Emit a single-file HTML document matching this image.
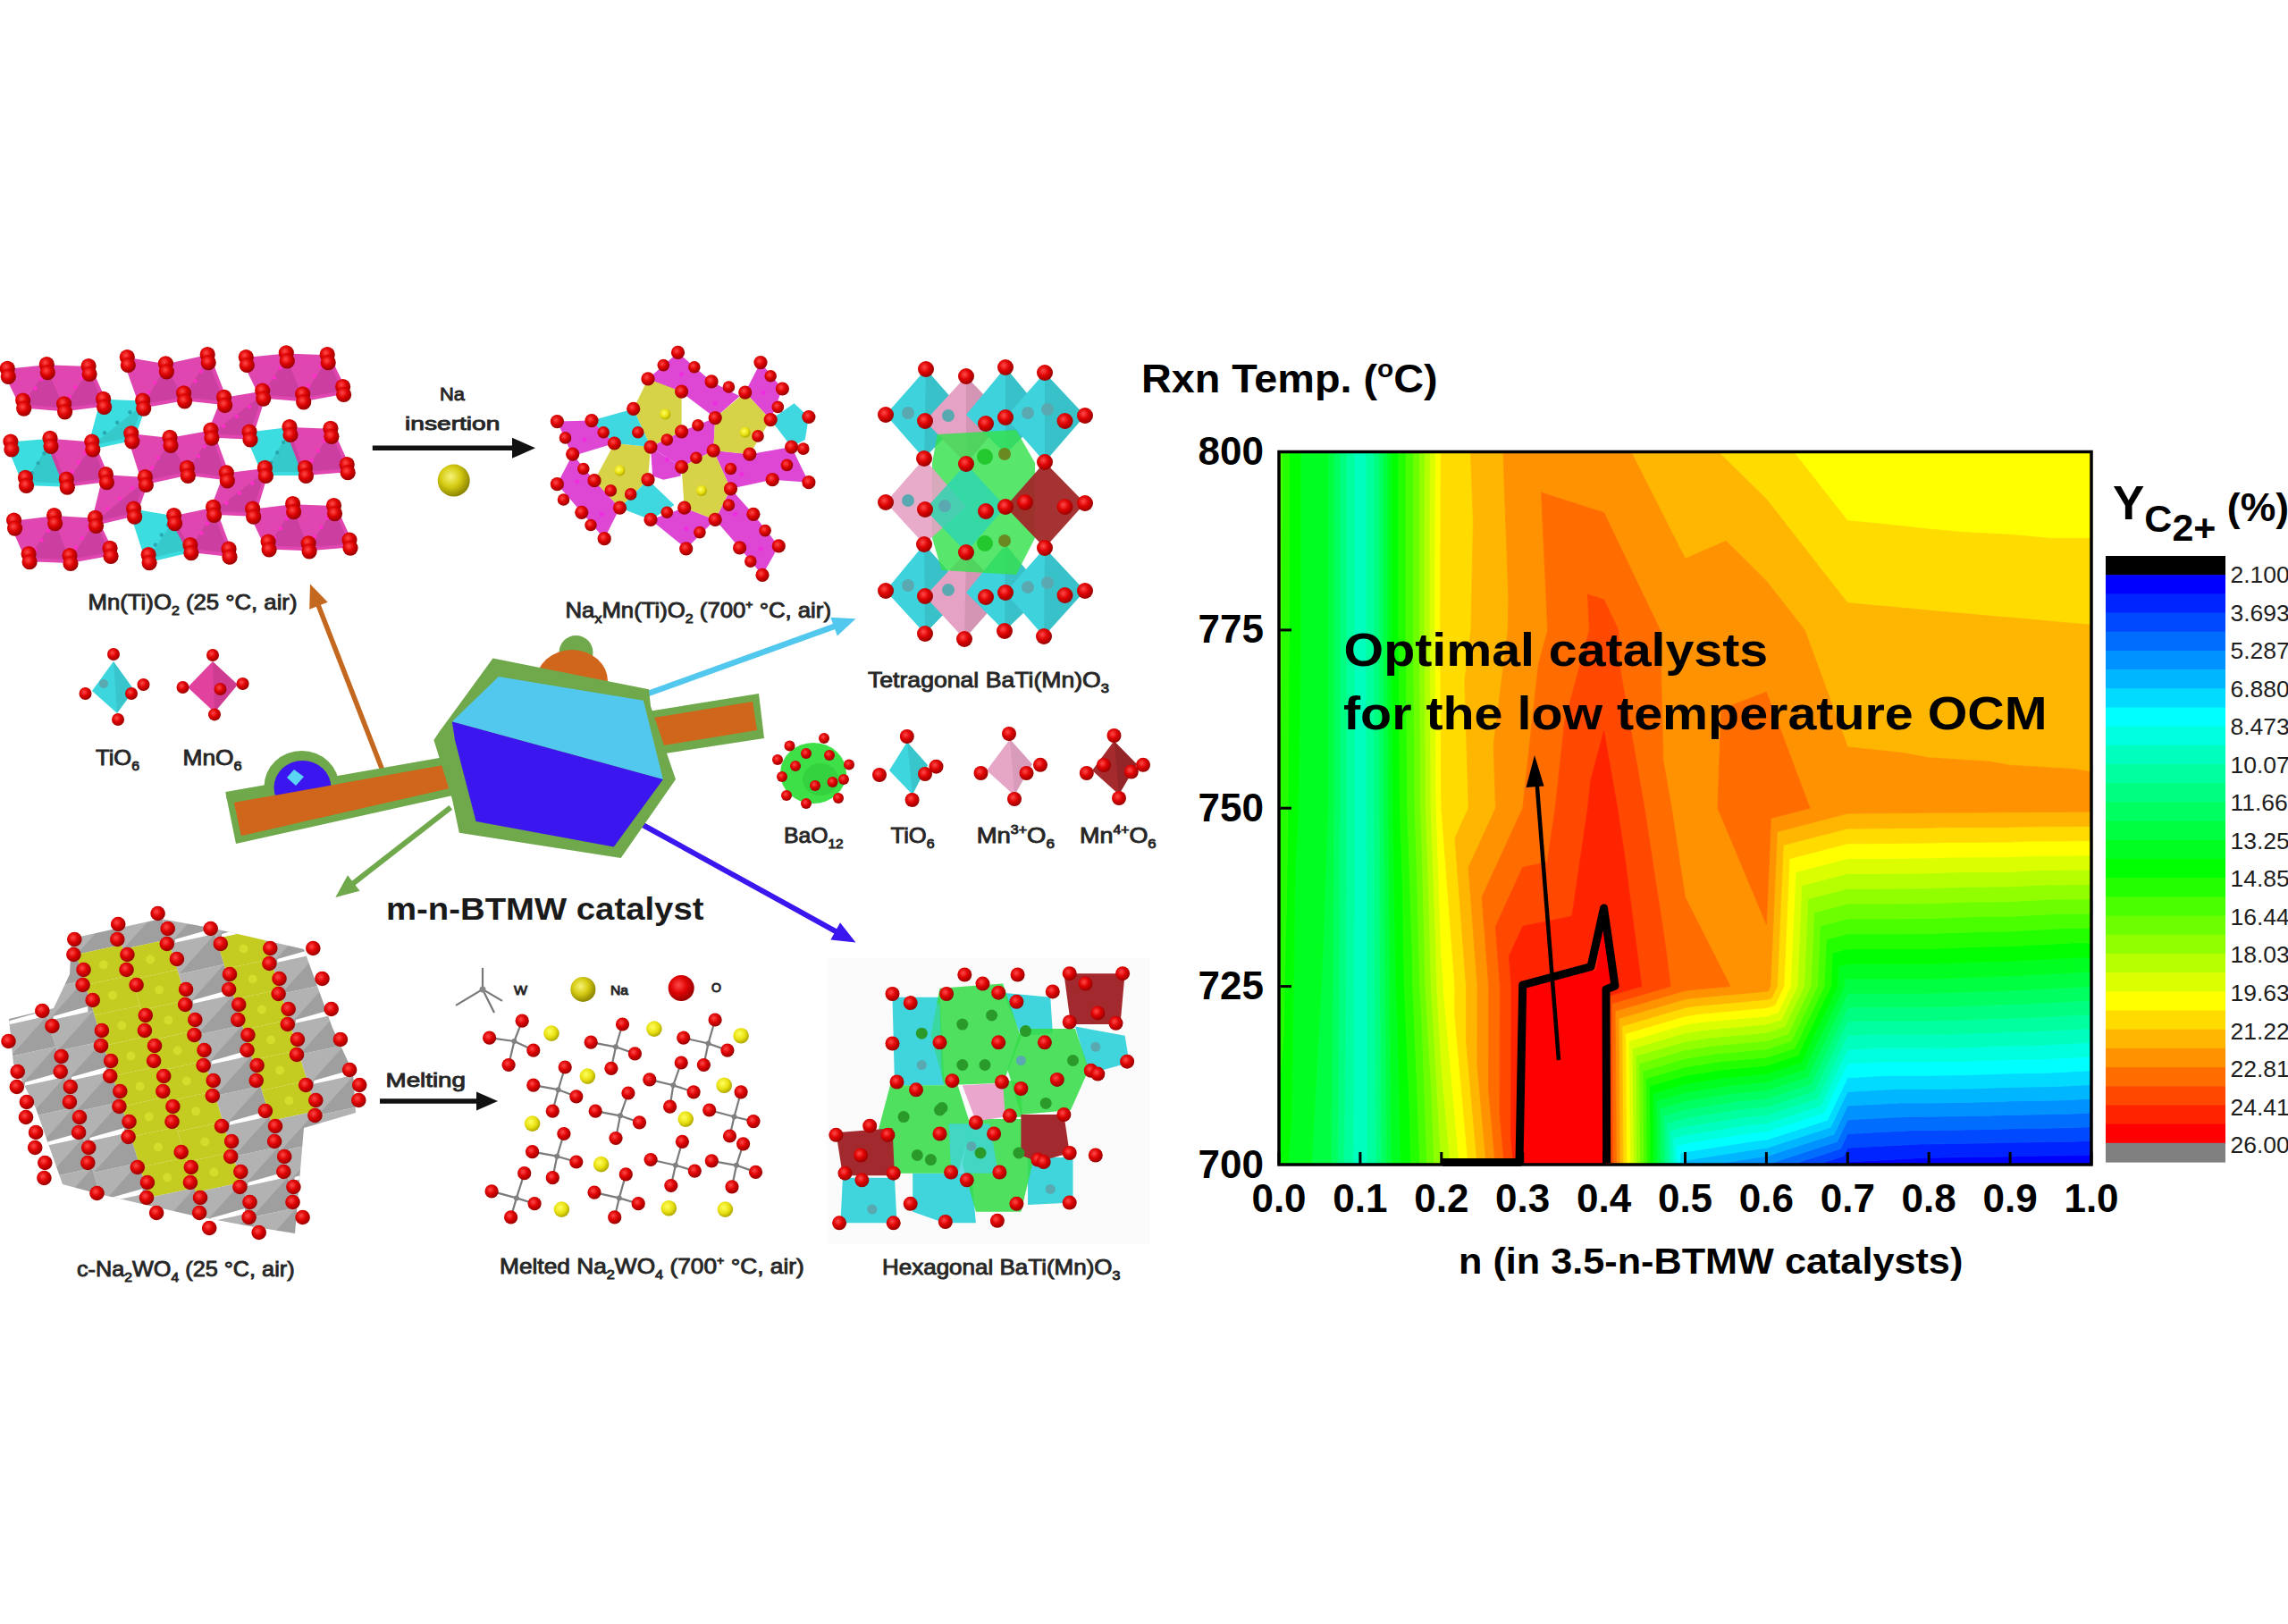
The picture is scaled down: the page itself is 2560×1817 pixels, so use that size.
<!DOCTYPE html>
<html><head><meta charset="utf-8"><title>m-n-BTMW catalyst</title>
<style>html,body{margin:0;padding:0;background:#fff;overflow:hidden}svg{display:block}</style>
</head><body>
<svg width="2560" height="1817" viewBox="0 0 2560 1817">
<rect width="2560" height="1817" fill="#fff"/>
<defs>
<radialGradient id="gO" cx="0.4" cy="0.38" r="0.62"><stop offset="0" stop-color="#ff4a4a"/><stop offset="0.5" stop-color="#e00404"/><stop offset="1" stop-color="#9a0000"/></radialGradient>
<radialGradient id="gNa" cx="0.4" cy="0.38" r="0.62"><stop offset="0" stop-color="#f6f27a"/><stop offset="0.5" stop-color="#d6cc14"/><stop offset="1" stop-color="#8e8600"/></radialGradient>
<radialGradient id="gY" cx="0.4" cy="0.38" r="0.62"><stop offset="0" stop-color="#ffff60"/><stop offset="0.6" stop-color="#e8e010"/><stop offset="1" stop-color="#b0a800"/></radialGradient>
</defs>
<polygon points="8.3,416.8 52.3,412.2 71.6,456.3 25.7,452.6" fill="#e046b0" stroke="#e046b0" stroke-width="8" stroke-linejoin="round"/>
<polygon points="52.3,412.2 99.1,414.0 115.6,450.8 71.6,456.3" fill="#e046b0" stroke="#e046b0" stroke-width="8" stroke-linejoin="round"/>
<polygon points="142.3,404.0 185.4,411.3 205.6,444.3 159.7,452.6" fill="#e046b0" stroke="#e046b0" stroke-width="8" stroke-linejoin="round"/>
<polygon points="185.4,411.3 232.2,401.2 250.6,448.9 205.6,444.3" fill="#e046b0" stroke="#e046b0" stroke-width="8" stroke-linejoin="round"/>
<polygon points="275.3,404.0 320.3,399.4 338.7,445.3 293.7,441.6" fill="#e046b0" stroke="#e046b0" stroke-width="8" stroke-linejoin="round"/>
<polygon points="320.3,399.4 366.2,401.2 383.6,437.0 338.7,445.3" fill="#e046b0" stroke="#e046b0" stroke-width="8" stroke-linejoin="round"/>
<polygon points="11.9,498.5 56.0,494.8 74.3,540.7 28.5,538.9" fill="#3cdde0" stroke="#3cdde0" stroke-width="8" stroke-linejoin="round"/>
<polygon points="56.0,494.8 102.8,498.5 118.4,535.2 74.3,540.7" fill="#e046b0" stroke="#e046b0" stroke-width="8" stroke-linejoin="round"/>
<polygon points="146.8,489.3 190.0,493.9 209.3,527.9 162.4,538.0" fill="#e046b0" stroke="#e046b0" stroke-width="8" stroke-linejoin="round"/>
<polygon points="190.0,493.9 235.9,485.6 253.3,533.4 209.3,527.9" fill="#e046b0" stroke="#e046b0" stroke-width="8" stroke-linejoin="round"/>
<polygon points="279.0,487.5 324.0,482.0 341.4,527.9 296.4,527.9" fill="#3cdde0" stroke="#3cdde0" stroke-width="8" stroke-linejoin="round"/>
<polygon points="324.0,482.0 369.9,483.8 388.2,524.2 341.4,527.9" fill="#e046b0" stroke="#e046b0" stroke-width="8" stroke-linejoin="round"/>
<polygon points="15.6,586.6 60.6,581.1 78.0,626.0 32.1,624.2" fill="#e046b0" stroke="#e046b0" stroke-width="8" stroke-linejoin="round"/>
<polygon points="60.6,581.1 106.5,583.8 123.0,617.8 78.0,626.0" fill="#e046b0" stroke="#e046b0" stroke-width="8" stroke-linejoin="round"/>
<polygon points="149.6,573.7 194.6,581.1 212.9,614.1 166.1,625.1" fill="#3cdde0" stroke="#3cdde0" stroke-width="8" stroke-linejoin="round"/>
<polygon points="194.6,581.1 238.6,571.9 256.0,618.7 212.9,614.1" fill="#e046b0" stroke="#e046b0" stroke-width="8" stroke-linejoin="round"/>
<polygon points="282.7,573.7 327.6,568.2 345.1,612.3 300.1,610.5" fill="#e046b0" stroke="#e046b0" stroke-width="8" stroke-linejoin="round"/>
<polygon points="327.6,568.2 373.5,570.1 391.0,608.6 345.1,612.3" fill="#e046b0" stroke="#e046b0" stroke-width="8" stroke-linejoin="round"/>
<polygon points="115.6,450.8 159.7,452.6 146.8,489.3 102.8,498.5" fill="#3cdde0" stroke="#3cdde0" stroke-width="8" stroke-linejoin="round"/>
<polygon points="250.6,448.9 293.7,441.6 279.0,487.5 235.9,485.6" fill="#e046b0" stroke="#e046b0" stroke-width="8" stroke-linejoin="round"/>
<polygon points="118.4,535.2 162.4,538.0 149.6,573.7 106.5,583.8" fill="#e046b0" stroke="#e046b0" stroke-width="8" stroke-linejoin="round"/>
<polygon points="253.3,533.4 296.4,527.9 282.7,573.7 238.6,571.9" fill="#e046b0" stroke="#e046b0" stroke-width="8" stroke-linejoin="round"/>
<polygon points="52.3,412.2 71.6,456.3 25.7,452.6" fill="#000" fill-opacity="0.09"/>
<circle cx="46.1" cy="424.4" r="2.2" fill="#ff2ec8"/>
<circle cx="39.5" cy="434.5" r="2.2" fill="#ff2ec8"/>
<circle cx="32.8" cy="444.6" r="2.2" fill="#ff2ec8"/>
<polygon points="99.1,414.0 115.6,450.8 71.6,456.3" fill="#000" fill-opacity="0.09"/>
<circle cx="91.5" cy="422.8" r="2.2" fill="#ff2ec8"/>
<circle cx="84.6" cy="433.3" r="2.2" fill="#ff2ec8"/>
<circle cx="77.8" cy="443.9" r="2.2" fill="#ff2ec8"/>
<polygon points="185.4,411.3 205.6,444.3 159.7,452.6" fill="#000" fill-opacity="0.09"/>
<circle cx="179.7" cy="417.7" r="2.2" fill="#ff2ec8"/>
<circle cx="173.2" cy="428.1" r="2.2" fill="#ff2ec8"/>
<circle cx="166.8" cy="438.4" r="2.2" fill="#ff2ec8"/>
<polygon points="232.2,401.2 250.6,448.9 205.6,444.3" fill="#000" fill-opacity="0.09"/>
<circle cx="225.1" cy="415.6" r="2.2" fill="#ff2ec8"/>
<circle cx="218.5" cy="426.4" r="2.2" fill="#ff2ec8"/>
<circle cx="211.8" cy="437.2" r="2.2" fill="#ff2ec8"/>
<polygon points="320.3,399.4 338.7,445.3 293.7,441.6" fill="#000" fill-opacity="0.09"/>
<circle cx="313.6" cy="412.0" r="2.2" fill="#ff2ec8"/>
<circle cx="307.0" cy="422.6" r="2.2" fill="#ff2ec8"/>
<circle cx="300.4" cy="433.1" r="2.2" fill="#ff2ec8"/>
<polygon points="366.2,401.2 383.6,437.0 338.7,445.3" fill="#000" fill-opacity="0.09"/>
<circle cx="359.1" cy="409.7" r="2.2" fill="#ff2ec8"/>
<circle cx="352.2" cy="420.7" r="2.2" fill="#ff2ec8"/>
<circle cx="345.3" cy="431.8" r="2.2" fill="#ff2ec8"/>
<polygon points="56.0,494.8 74.3,540.7 28.5,538.9" fill="#000" fill-opacity="0.09"/>
<circle cx="49.5" cy="507.2" r="2.2" fill="#2aa8b0"/>
<circle cx="42.7" cy="518.2" r="2.2" fill="#2aa8b0"/>
<circle cx="35.8" cy="529.2" r="2.2" fill="#2aa8b0"/>
<polygon points="102.8,498.5 118.4,535.2 74.3,540.7" fill="#000" fill-opacity="0.09"/>
<circle cx="95.0" cy="506.7" r="2.2" fill="#ff2ec8"/>
<circle cx="87.9" cy="517.3" r="2.2" fill="#ff2ec8"/>
<circle cx="80.8" cy="527.8" r="2.2" fill="#ff2ec8"/>
<polygon points="190.0,493.9 209.3,527.9 162.4,538.0" fill="#000" fill-opacity="0.09"/>
<circle cx="184.0" cy="501.2" r="2.2" fill="#ff2ec8"/>
<circle cx="177.1" cy="512.3" r="2.2" fill="#ff2ec8"/>
<circle cx="170.2" cy="523.3" r="2.2" fill="#ff2ec8"/>
<polygon points="235.9,485.6 253.3,533.4 209.3,527.9" fill="#000" fill-opacity="0.09"/>
<circle cx="228.8" cy="499.6" r="2.2" fill="#ff2ec8"/>
<circle cx="222.1" cy="510.2" r="2.2" fill="#ff2ec8"/>
<circle cx="215.5" cy="520.8" r="2.2" fill="#ff2ec8"/>
<polygon points="324.0,482.0 341.4,527.9 296.4,527.9" fill="#000" fill-opacity="0.09"/>
<circle cx="317.1" cy="494.9" r="2.2" fill="#2aa8b0"/>
<circle cx="310.2" cy="506.3" r="2.2" fill="#2aa8b0"/>
<circle cx="303.3" cy="517.8" r="2.2" fill="#2aa8b0"/>
<polygon points="369.9,483.8 388.2,524.2 341.4,527.9" fill="#000" fill-opacity="0.09"/>
<circle cx="363.0" cy="493.4" r="2.2" fill="#ff2ec8"/>
<circle cx="355.9" cy="504.5" r="2.2" fill="#ff2ec8"/>
<circle cx="348.8" cy="515.5" r="2.2" fill="#ff2ec8"/>
<polygon points="60.6,581.1 78.0,626.0 32.1,624.2" fill="#000" fill-opacity="0.09"/>
<circle cx="53.7" cy="593.7" r="2.2" fill="#ff2ec8"/>
<circle cx="46.6" cy="604.5" r="2.2" fill="#ff2ec8"/>
<circle cx="39.5" cy="615.2" r="2.2" fill="#ff2ec8"/>
<polygon points="106.5,583.8 123.0,617.8 78.0,626.0" fill="#000" fill-opacity="0.09"/>
<circle cx="99.2" cy="591.6" r="2.2" fill="#ff2ec8"/>
<circle cx="92.0" cy="602.2" r="2.2" fill="#ff2ec8"/>
<circle cx="84.9" cy="612.7" r="2.2" fill="#ff2ec8"/>
<polygon points="194.6,581.1 212.9,614.1 166.1,625.1" fill="#000" fill-opacity="0.09"/>
<circle cx="187.9" cy="587.5" r="2.2" fill="#2aa8b0"/>
<circle cx="180.8" cy="598.5" r="2.2" fill="#2aa8b0"/>
<circle cx="173.7" cy="609.5" r="2.2" fill="#2aa8b0"/>
<polygon points="238.6,571.9 256.0,618.7 212.9,614.1" fill="#000" fill-opacity="0.09"/>
<circle cx="231.9" cy="585.9" r="2.2" fill="#ff2ec8"/>
<circle cx="225.5" cy="596.5" r="2.2" fill="#ff2ec8"/>
<circle cx="219.1" cy="607.0" r="2.2" fill="#ff2ec8"/>
<polygon points="327.6,568.2 345.1,612.3 300.1,610.5" fill="#000" fill-opacity="0.09"/>
<circle cx="320.8" cy="580.6" r="2.2" fill="#ff2ec8"/>
<circle cx="313.9" cy="591.2" r="2.2" fill="#ff2ec8"/>
<circle cx="307.0" cy="601.8" r="2.2" fill="#ff2ec8"/>
<polygon points="373.5,570.1 391.0,608.6 345.1,612.3" fill="#000" fill-opacity="0.09"/>
<circle cx="366.4" cy="579.3" r="2.2" fill="#ff2ec8"/>
<circle cx="359.3" cy="589.8" r="2.2" fill="#ff2ec8"/>
<circle cx="352.2" cy="600.4" r="2.2" fill="#ff2ec8"/>
<polygon points="159.7,452.6 146.8,489.3 102.8,498.5" fill="#000" fill-opacity="0.09"/>
<circle cx="145.4" cy="461.3" r="2.2" fill="#2aa8b0"/>
<circle cx="131.2" cy="472.8" r="2.2" fill="#2aa8b0"/>
<circle cx="117.0" cy="484.3" r="2.2" fill="#2aa8b0"/>
<polygon points="293.7,441.6 279.0,487.5 235.9,485.6" fill="#000" fill-opacity="0.09"/>
<circle cx="279.2" cy="454.9" r="2.2" fill="#ff2ec8"/>
<circle cx="264.8" cy="465.9" r="2.2" fill="#ff2ec8"/>
<circle cx="250.3" cy="476.9" r="2.2" fill="#ff2ec8"/>
<polygon points="162.4,538.0 149.6,573.7 106.5,583.8" fill="#000" fill-opacity="0.09"/>
<circle cx="148.2" cy="546.2" r="2.2" fill="#ff2ec8"/>
<circle cx="134.2" cy="557.7" r="2.2" fill="#ff2ec8"/>
<circle cx="120.2" cy="569.1" r="2.2" fill="#ff2ec8"/>
<polygon points="296.4,527.9 282.7,573.7 238.6,571.9" fill="#000" fill-opacity="0.09"/>
<circle cx="282.2" cy="540.7" r="2.2" fill="#ff2ec8"/>
<circle cx="267.8" cy="551.7" r="2.2" fill="#ff2ec8"/>
<circle cx="253.3" cy="562.7" r="2.2" fill="#ff2ec8"/>
<circle cx="8.3" cy="412.3" r="8.6" fill="url(#gO)"/>
<circle cx="9.3" cy="421.3" r="8.6" fill="url(#gO)"/>
<circle cx="52.3" cy="407.7" r="8.6" fill="url(#gO)"/>
<circle cx="53.3" cy="416.7" r="8.6" fill="url(#gO)"/>
<circle cx="99.1" cy="409.5" r="8.6" fill="url(#gO)"/>
<circle cx="100.1" cy="418.5" r="8.6" fill="url(#gO)"/>
<circle cx="142.3" cy="399.5" r="8.6" fill="url(#gO)"/>
<circle cx="143.3" cy="408.5" r="8.6" fill="url(#gO)"/>
<circle cx="185.4" cy="406.8" r="8.6" fill="url(#gO)"/>
<circle cx="186.4" cy="415.8" r="8.6" fill="url(#gO)"/>
<circle cx="232.2" cy="396.7" r="8.6" fill="url(#gO)"/>
<circle cx="233.2" cy="405.7" r="8.6" fill="url(#gO)"/>
<circle cx="275.3" cy="399.5" r="8.6" fill="url(#gO)"/>
<circle cx="276.3" cy="408.5" r="8.6" fill="url(#gO)"/>
<circle cx="320.3" cy="394.9" r="8.6" fill="url(#gO)"/>
<circle cx="321.3" cy="403.9" r="8.6" fill="url(#gO)"/>
<circle cx="366.2" cy="396.7" r="8.6" fill="url(#gO)"/>
<circle cx="367.2" cy="405.7" r="8.6" fill="url(#gO)"/>
<circle cx="25.7" cy="448.1" r="8.6" fill="url(#gO)"/>
<circle cx="26.7" cy="457.1" r="8.6" fill="url(#gO)"/>
<circle cx="71.6" cy="451.8" r="8.6" fill="url(#gO)"/>
<circle cx="72.6" cy="460.8" r="8.6" fill="url(#gO)"/>
<circle cx="115.6" cy="446.3" r="8.6" fill="url(#gO)"/>
<circle cx="116.6" cy="455.3" r="8.6" fill="url(#gO)"/>
<circle cx="159.7" cy="448.1" r="8.6" fill="url(#gO)"/>
<circle cx="160.7" cy="457.1" r="8.6" fill="url(#gO)"/>
<circle cx="205.6" cy="439.8" r="8.6" fill="url(#gO)"/>
<circle cx="206.6" cy="448.8" r="8.6" fill="url(#gO)"/>
<circle cx="250.6" cy="444.4" r="8.6" fill="url(#gO)"/>
<circle cx="251.6" cy="453.4" r="8.6" fill="url(#gO)"/>
<circle cx="293.7" cy="437.1" r="8.6" fill="url(#gO)"/>
<circle cx="294.7" cy="446.1" r="8.6" fill="url(#gO)"/>
<circle cx="338.7" cy="440.8" r="8.6" fill="url(#gO)"/>
<circle cx="339.7" cy="449.8" r="8.6" fill="url(#gO)"/>
<circle cx="383.6" cy="432.5" r="8.6" fill="url(#gO)"/>
<circle cx="384.6" cy="441.5" r="8.6" fill="url(#gO)"/>
<circle cx="11.9" cy="494.0" r="8.6" fill="url(#gO)"/>
<circle cx="12.9" cy="503.0" r="8.6" fill="url(#gO)"/>
<circle cx="56.0" cy="490.3" r="8.6" fill="url(#gO)"/>
<circle cx="57.0" cy="499.3" r="8.6" fill="url(#gO)"/>
<circle cx="102.8" cy="494.0" r="8.6" fill="url(#gO)"/>
<circle cx="103.8" cy="503.0" r="8.6" fill="url(#gO)"/>
<circle cx="146.8" cy="484.8" r="8.6" fill="url(#gO)"/>
<circle cx="147.8" cy="493.8" r="8.6" fill="url(#gO)"/>
<circle cx="190.0" cy="489.4" r="8.6" fill="url(#gO)"/>
<circle cx="191.0" cy="498.4" r="8.6" fill="url(#gO)"/>
<circle cx="235.9" cy="481.1" r="8.6" fill="url(#gO)"/>
<circle cx="236.9" cy="490.1" r="8.6" fill="url(#gO)"/>
<circle cx="279.0" cy="483.0" r="8.6" fill="url(#gO)"/>
<circle cx="280.0" cy="492.0" r="8.6" fill="url(#gO)"/>
<circle cx="324.0" cy="477.5" r="8.6" fill="url(#gO)"/>
<circle cx="325.0" cy="486.5" r="8.6" fill="url(#gO)"/>
<circle cx="369.9" cy="479.3" r="8.6" fill="url(#gO)"/>
<circle cx="370.9" cy="488.3" r="8.6" fill="url(#gO)"/>
<circle cx="28.5" cy="534.4" r="8.6" fill="url(#gO)"/>
<circle cx="29.5" cy="543.4" r="8.6" fill="url(#gO)"/>
<circle cx="74.3" cy="536.2" r="8.6" fill="url(#gO)"/>
<circle cx="75.3" cy="545.2" r="8.6" fill="url(#gO)"/>
<circle cx="118.4" cy="530.7" r="8.6" fill="url(#gO)"/>
<circle cx="119.4" cy="539.7" r="8.6" fill="url(#gO)"/>
<circle cx="162.4" cy="533.5" r="8.6" fill="url(#gO)"/>
<circle cx="163.4" cy="542.5" r="8.6" fill="url(#gO)"/>
<circle cx="209.3" cy="523.4" r="8.6" fill="url(#gO)"/>
<circle cx="210.3" cy="532.4" r="8.6" fill="url(#gO)"/>
<circle cx="253.3" cy="528.9" r="8.6" fill="url(#gO)"/>
<circle cx="254.3" cy="537.9" r="8.6" fill="url(#gO)"/>
<circle cx="296.4" cy="523.4" r="8.6" fill="url(#gO)"/>
<circle cx="297.4" cy="532.4" r="8.6" fill="url(#gO)"/>
<circle cx="341.4" cy="523.4" r="8.6" fill="url(#gO)"/>
<circle cx="342.4" cy="532.4" r="8.6" fill="url(#gO)"/>
<circle cx="388.2" cy="519.7" r="8.6" fill="url(#gO)"/>
<circle cx="389.2" cy="528.7" r="8.6" fill="url(#gO)"/>
<circle cx="15.6" cy="582.1" r="8.6" fill="url(#gO)"/>
<circle cx="16.6" cy="591.1" r="8.6" fill="url(#gO)"/>
<circle cx="60.6" cy="576.6" r="8.6" fill="url(#gO)"/>
<circle cx="61.6" cy="585.6" r="8.6" fill="url(#gO)"/>
<circle cx="106.5" cy="579.3" r="8.6" fill="url(#gO)"/>
<circle cx="107.5" cy="588.3" r="8.6" fill="url(#gO)"/>
<circle cx="149.6" cy="569.2" r="8.6" fill="url(#gO)"/>
<circle cx="150.6" cy="578.2" r="8.6" fill="url(#gO)"/>
<circle cx="194.6" cy="576.6" r="8.6" fill="url(#gO)"/>
<circle cx="195.6" cy="585.6" r="8.6" fill="url(#gO)"/>
<circle cx="238.6" cy="567.4" r="8.6" fill="url(#gO)"/>
<circle cx="239.6" cy="576.4" r="8.6" fill="url(#gO)"/>
<circle cx="282.7" cy="569.2" r="8.6" fill="url(#gO)"/>
<circle cx="283.7" cy="578.2" r="8.6" fill="url(#gO)"/>
<circle cx="327.6" cy="563.7" r="8.6" fill="url(#gO)"/>
<circle cx="328.6" cy="572.7" r="8.6" fill="url(#gO)"/>
<circle cx="373.5" cy="565.6" r="8.6" fill="url(#gO)"/>
<circle cx="374.5" cy="574.6" r="8.6" fill="url(#gO)"/>
<circle cx="32.1" cy="619.7" r="8.6" fill="url(#gO)"/>
<circle cx="33.1" cy="628.7" r="8.6" fill="url(#gO)"/>
<circle cx="78.0" cy="621.5" r="8.6" fill="url(#gO)"/>
<circle cx="79.0" cy="630.5" r="8.6" fill="url(#gO)"/>
<circle cx="123.0" cy="613.3" r="8.6" fill="url(#gO)"/>
<circle cx="124.0" cy="622.3" r="8.6" fill="url(#gO)"/>
<circle cx="166.1" cy="620.6" r="8.6" fill="url(#gO)"/>
<circle cx="167.1" cy="629.6" r="8.6" fill="url(#gO)"/>
<circle cx="212.9" cy="609.6" r="8.6" fill="url(#gO)"/>
<circle cx="213.9" cy="618.6" r="8.6" fill="url(#gO)"/>
<circle cx="256.0" cy="614.2" r="8.6" fill="url(#gO)"/>
<circle cx="257.0" cy="623.2" r="8.6" fill="url(#gO)"/>
<circle cx="300.1" cy="606.0" r="8.6" fill="url(#gO)"/>
<circle cx="301.1" cy="615.0" r="8.6" fill="url(#gO)"/>
<circle cx="345.1" cy="607.8" r="8.6" fill="url(#gO)"/>
<circle cx="346.1" cy="616.8" r="8.6" fill="url(#gO)"/>
<circle cx="391.0" cy="604.1" r="8.6" fill="url(#gO)"/>
<circle cx="392.0" cy="613.1" r="8.6" fill="url(#gO)"/>
<polygon points="758.5,394.4 796.1,426.9 827.6,443.2 800.2,467.6 762.6,439.1 725.0,423.9" fill="#de46d4" />
<polygon points="851.0,405.6 875.4,435.0 862.2,469.6 833.7,439.1" fill="#de46d4" />
<polygon points="623.4,471.6 662.0,470.6 687.4,496.0 640.7,510.2" fill="#de46d4" />
<polygon points="640.7,508.2 665.0,537.7 693.5,568.2 676.2,602.7 650.8,573.3 623.4,541.7" fill="#de46d4" />
<polygon points="728.0,500.1 762.6,482.8 800.2,467.6 798.2,504.1 762.6,522.4" fill="#de46d4" />
<polygon points="728.0,500.1 762.6,522.4 761.6,532.6 742.3,536.7 730.1,532.6" fill="#de46d4" />
<polygon points="798.2,504.1 838.8,508.2 885.6,500.1 904.9,539.7 864.2,536.7 817.5,546.8" fill="#de46d4" />
<polygon points="728.0,581.4 765.7,568.2 800.2,581.4 767.7,613.9" fill="#de46d4" />
<polygon points="817.5,546.8 842.9,575.3 871.3,610.9 853.0,643.4 827.6,612.9 800.2,581.4" fill="#de46d4" />
<polygon points="725.0,423.9 762.6,438.1 762.6,482.8 728.0,500.1 708.7,457.4" fill="#d4cf38" fill-opacity="0.92"/>
<polygon points="800.2,467.6 833.7,439.1 862.2,469.6 838.8,508.2 798.2,504.1" fill="#d4cf38" fill-opacity="0.92"/>
<polygon points="687.4,496.0 728.0,500.1 725.0,536.7 693.5,568.2 665.0,537.7" fill="#d4cf38" fill-opacity="0.92"/>
<polygon points="762.6,522.4 798.2,504.1 817.5,546.8 800.2,581.4 765.7,568.2" fill="#d4cf38" fill-opacity="0.92"/>
<polygon points="662.0,470.6 708.7,457.4 728.0,500.1 687.4,496.0" fill="#3fd8e0" />
<polygon points="862.2,469.6 888.6,451.3 904.9,466.5 900.8,492.0 885.6,500.1" fill="#3fd8e0" />
<polygon points="693.5,568.2 725.0,536.7 754.5,565.1 728.0,581.4" fill="#3fd8e0" />
<circle cx="744.3" cy="463.5" r="6.0" fill="url(#gY)"/>
<circle cx="833.7" cy="483.8" r="6.0" fill="url(#gY)"/>
<circle cx="693.5" cy="526.5" r="6.0" fill="url(#gY)"/>
<circle cx="785.0" cy="548.9" r="6.0" fill="url(#gY)"/>
<circle cx="762.6" cy="418.8" r="2.5" fill="#f02ce0"/>
<circle cx="800.2" cy="451.3" r="2.5" fill="#f02ce0"/>
<circle cx="854.1" cy="439.1" r="2.5" fill="#f02ce0"/>
<circle cx="653.9" cy="492.0" r="2.5" fill="#f02ce0"/>
<circle cx="645.7" cy="538.7" r="2.5" fill="#f02ce0"/>
<circle cx="673.2" cy="575.3" r="2.5" fill="#f02ce0"/>
<circle cx="746.3" cy="514.3" r="2.5" fill="#f02ce0"/>
<circle cx="829.7" cy="530.6" r="2.5" fill="#f02ce0"/>
<circle cx="876.4" cy="520.4" r="2.5" fill="#f02ce0"/>
<circle cx="767.7" cy="591.5" r="2.5" fill="#f02ce0"/>
<circle cx="822.6" cy="575.3" r="2.5" fill="#f02ce0"/>
<circle cx="851.0" cy="613.9" r="2.5" fill="#f02ce0"/>
<circle cx="742.3" cy="408.6" r="6.8" fill="url(#gO)"/>
<circle cx="776.8" cy="410.7" r="6.8" fill="url(#gO)"/>
<circle cx="815.4" cy="433.0" r="6.8" fill="url(#gO)"/>
<circle cx="862.2" cy="420.8" r="6.8" fill="url(#gO)"/>
<circle cx="870.3" cy="455.4" r="6.8" fill="url(#gO)"/>
<circle cx="746.3" cy="492.0" r="6.8" fill="url(#gO)"/>
<circle cx="780.9" cy="475.7" r="6.8" fill="url(#gO)"/>
<circle cx="713.8" cy="483.8" r="6.8" fill="url(#gO)"/>
<circle cx="675.2" cy="483.8" r="6.8" fill="url(#gO)"/>
<circle cx="632.5" cy="489.9" r="6.8" fill="url(#gO)"/>
<circle cx="652.8" cy="524.5" r="6.8" fill="url(#gO)"/>
<circle cx="630.5" cy="559.0" r="6.8" fill="url(#gO)"/>
<circle cx="661.0" cy="587.5" r="6.8" fill="url(#gO)"/>
<circle cx="705.7" cy="552.9" r="6.8" fill="url(#gO)"/>
<circle cx="746.3" cy="573.3" r="6.8" fill="url(#gO)"/>
<circle cx="782.9" cy="595.6" r="6.8" fill="url(#gO)"/>
<circle cx="815.4" cy="565.1" r="6.8" fill="url(#gO)"/>
<circle cx="856.1" cy="593.6" r="6.8" fill="url(#gO)"/>
<circle cx="839.8" cy="628.1" r="6.8" fill="url(#gO)"/>
<circle cx="880.5" cy="520.4" r="6.8" fill="url(#gO)"/>
<circle cx="898.8" cy="502.1" r="6.8" fill="url(#gO)"/>
<circle cx="848.0" cy="487.9" r="6.8" fill="url(#gO)"/>
<circle cx="778.9" cy="512.3" r="6.8" fill="url(#gO)"/>
<circle cx="817.5" cy="524.5" r="6.8" fill="url(#gO)"/>
<circle cx="683.3" cy="548.9" r="6.8" fill="url(#gO)"/>
<circle cx="758.5" cy="394.4" r="7.6" fill="url(#gO)"/>
<circle cx="851.0" cy="405.6" r="7.6" fill="url(#gO)"/>
<circle cx="725.0" cy="423.9" r="7.6" fill="url(#gO)"/>
<circle cx="796.1" cy="426.9" r="7.6" fill="url(#gO)"/>
<circle cx="762.6" cy="438.1" r="7.6" fill="url(#gO)"/>
<circle cx="833.7" cy="439.1" r="7.6" fill="url(#gO)"/>
<circle cx="875.4" cy="435.0" r="7.6" fill="url(#gO)"/>
<circle cx="708.7" cy="457.4" r="7.6" fill="url(#gO)"/>
<circle cx="800.2" cy="467.6" r="7.6" fill="url(#gO)"/>
<circle cx="862.2" cy="469.6" r="7.6" fill="url(#gO)"/>
<circle cx="904.9" cy="466.5" r="7.6" fill="url(#gO)"/>
<circle cx="623.4" cy="471.6" r="7.6" fill="url(#gO)"/>
<circle cx="662.0" cy="470.6" r="7.6" fill="url(#gO)"/>
<circle cx="762.6" cy="482.8" r="7.6" fill="url(#gO)"/>
<circle cx="687.4" cy="496.0" r="7.6" fill="url(#gO)"/>
<circle cx="728.0" cy="500.1" r="7.6" fill="url(#gO)"/>
<circle cx="798.2" cy="504.1" r="7.6" fill="url(#gO)"/>
<circle cx="838.8" cy="508.2" r="7.6" fill="url(#gO)"/>
<circle cx="885.6" cy="500.1" r="7.6" fill="url(#gO)"/>
<circle cx="640.7" cy="508.2" r="7.6" fill="url(#gO)"/>
<circle cx="762.6" cy="522.4" r="7.6" fill="url(#gO)"/>
<circle cx="623.4" cy="541.7" r="7.6" fill="url(#gO)"/>
<circle cx="665.0" cy="537.7" r="7.6" fill="url(#gO)"/>
<circle cx="725.0" cy="536.7" r="7.6" fill="url(#gO)"/>
<circle cx="817.5" cy="546.8" r="7.6" fill="url(#gO)"/>
<circle cx="864.2" cy="536.7" r="7.6" fill="url(#gO)"/>
<circle cx="904.9" cy="539.7" r="7.6" fill="url(#gO)"/>
<circle cx="693.5" cy="568.2" r="7.6" fill="url(#gO)"/>
<circle cx="650.8" cy="573.3" r="7.6" fill="url(#gO)"/>
<circle cx="765.7" cy="568.2" r="7.6" fill="url(#gO)"/>
<circle cx="728.0" cy="581.4" r="7.6" fill="url(#gO)"/>
<circle cx="800.2" cy="581.4" r="7.6" fill="url(#gO)"/>
<circle cx="842.9" cy="575.3" r="7.6" fill="url(#gO)"/>
<circle cx="676.2" cy="602.7" r="7.6" fill="url(#gO)"/>
<circle cx="767.7" cy="613.9" r="7.6" fill="url(#gO)"/>
<circle cx="827.6" cy="612.9" r="7.6" fill="url(#gO)"/>
<circle cx="871.3" cy="610.9" r="7.6" fill="url(#gO)"/>
<circle cx="853.0" cy="643.4" r="7.6" fill="url(#gO)"/>
<polygon points="1036.0,413.0 1081.0,464.0 1034.0,513.0 991.0,464.0" fill="#3ed2dc" />
<polygon points="1036.0,413.0 1081.0,464.0 1034.0,513.0" fill="#000" fill-opacity="0.08"/>
<polygon points="1081.0,421.0 1125.0,467.0 1081.0,519.0 1035.0,471.0" fill="#e6a2c4" />
<polygon points="1081.0,421.0 1125.0,467.0 1081.0,519.0" fill="#000" fill-opacity="0.08"/>
<polygon points="1125.0,411.0 1169.0,464.0 1125.0,508.0 1081.0,464.0" fill="#3ed2dc" />
<polygon points="1125.0,411.0 1169.0,464.0 1125.0,508.0" fill="#000" fill-opacity="0.08"/>
<polygon points="1169.0,417.0 1214.0,465.0 1169.0,517.0 1125.0,467.0" fill="#3ed2dc" />
<polygon points="1169.0,417.0 1214.0,465.0 1169.0,517.0" fill="#000" fill-opacity="0.08"/>
<polygon points="1034.0,609.0 1081.0,661.0 1035.0,709.0 991.0,661.0" fill="#3ed2dc" />
<polygon points="1034.0,609.0 1081.0,661.0 1035.0,709.0" fill="#000" fill-opacity="0.08"/>
<polygon points="1081.0,618.0 1125.0,663.0 1079.0,715.0 1035.0,667.0" fill="#e6a2c4" />
<polygon points="1081.0,618.0 1125.0,663.0 1079.0,715.0" fill="#000" fill-opacity="0.08"/>
<polygon points="1125.0,609.0 1169.0,663.0 1124.0,706.0 1081.0,663.0" fill="#3ed2dc" />
<polygon points="1125.0,609.0 1169.0,663.0 1124.0,706.0" fill="#000" fill-opacity="0.08"/>
<polygon points="1169.0,613.0 1214.0,661.0 1168.0,712.0 1125.0,663.0" fill="#3ed2dc" />
<polygon points="1169.0,613.0 1214.0,661.0 1168.0,712.0" fill="#000" fill-opacity="0.08"/>
<polygon points="1048.7,486.0 1137.0,481.0 1158.0,518.0 1158.0,602.0 1137.0,643.0 1053.6,638.0 1043.0,602.0 1043.0,518.0" fill="#34e04c" fill-opacity="0.82"/>
<polygon points="1034.0,513.0 1081.0,567.0 1034.0,609.0 991.0,562.0" fill="#e6a2c4" fill-opacity="0.9"/>
<polygon points="1081.0,519.0 1125.0,567.0 1081.0,618.0 1035.0,570.0" fill="#2fd6b0" fill-opacity="0.85"/>
<polygon points="1169.0,517.0 1214.0,563.0 1169.0,613.0 1125.0,567.0" fill="#a02828" fill-opacity="0.95"/>
<circle cx="1102.0" cy="511.0" r="9.0" fill="#22c82e"/>
<circle cx="1102.0" cy="608.0" r="9.0" fill="#22c82e"/>
<circle cx="1124.0" cy="508.0" r="7.0" fill="#6a8a20"/>
<circle cx="1124.0" cy="605.0" r="7.0" fill="#6a8a20"/>
<circle cx="1016.0" cy="462.0" r="7.0" fill="#5aa8b0"/>
<circle cx="1061.0" cy="465.0" r="7.0" fill="#5aa8b0"/>
<circle cx="1150.0" cy="462.0" r="7.0" fill="#5aa8b0"/>
<circle cx="1172.0" cy="458.0" r="7.0" fill="#5aa8b0"/>
<circle cx="1016.0" cy="560.0" r="7.0" fill="#5aa8b0"/>
<circle cx="1057.0" cy="566.0" r="7.0" fill="#5aa8b0"/>
<circle cx="1016.0" cy="655.0" r="7.0" fill="#5aa8b0"/>
<circle cx="1061.0" cy="660.0" r="7.0" fill="#5aa8b0"/>
<circle cx="1150.0" cy="657.0" r="7.0" fill="#5aa8b0"/>
<circle cx="1172.0" cy="652.0" r="7.0" fill="#5aa8b0"/>
<circle cx="1036.0" cy="413.0" r="9.0" fill="url(#gO)"/>
<circle cx="1081.0" cy="421.0" r="9.0" fill="url(#gO)"/>
<circle cx="1125.0" cy="411.0" r="9.0" fill="url(#gO)"/>
<circle cx="1169.0" cy="417.0" r="9.0" fill="url(#gO)"/>
<circle cx="991.0" cy="464.0" r="9.0" fill="url(#gO)"/>
<circle cx="1035.0" cy="471.0" r="9.0" fill="url(#gO)"/>
<circle cx="1103.0" cy="474.0" r="9.0" fill="url(#gO)"/>
<circle cx="1125.0" cy="467.0" r="9.0" fill="url(#gO)"/>
<circle cx="1191.5" cy="471.0" r="9.0" fill="url(#gO)"/>
<circle cx="1214.0" cy="465.0" r="9.0" fill="url(#gO)"/>
<circle cx="1034.0" cy="513.0" r="9.0" fill="url(#gO)"/>
<circle cx="1081.0" cy="519.0" r="9.0" fill="url(#gO)"/>
<circle cx="1169.0" cy="517.0" r="9.0" fill="url(#gO)"/>
<circle cx="991.0" cy="562.0" r="9.0" fill="url(#gO)"/>
<circle cx="1035.0" cy="570.0" r="9.0" fill="url(#gO)"/>
<circle cx="1103.0" cy="572.0" r="9.0" fill="url(#gO)"/>
<circle cx="1125.0" cy="567.0" r="9.0" fill="url(#gO)"/>
<circle cx="1147.0" cy="562.0" r="9.0" fill="url(#gO)"/>
<circle cx="1191.5" cy="567.0" r="9.0" fill="url(#gO)"/>
<circle cx="1214.0" cy="563.0" r="9.0" fill="url(#gO)"/>
<circle cx="1034.0" cy="609.0" r="9.0" fill="url(#gO)"/>
<circle cx="1081.0" cy="618.0" r="9.0" fill="url(#gO)"/>
<circle cx="1169.0" cy="613.0" r="9.0" fill="url(#gO)"/>
<circle cx="991.0" cy="661.0" r="9.0" fill="url(#gO)"/>
<circle cx="1035.0" cy="667.0" r="9.0" fill="url(#gO)"/>
<circle cx="1103.0" cy="668.0" r="9.0" fill="url(#gO)"/>
<circle cx="1125.0" cy="663.0" r="9.0" fill="url(#gO)"/>
<circle cx="1191.5" cy="666.0" r="9.0" fill="url(#gO)"/>
<circle cx="1214.0" cy="661.0" r="9.0" fill="url(#gO)"/>
<circle cx="1035.0" cy="709.0" r="9.0" fill="url(#gO)"/>
<circle cx="1079.0" cy="715.0" r="9.0" fill="url(#gO)"/>
<circle cx="1124.0" cy="706.0" r="9.0" fill="url(#gO)"/>
<circle cx="1168.0" cy="712.0" r="9.0" fill="url(#gO)"/>
<line x1="428.8" y1="864.0" x2="355.7" y2="676.0" stroke="#c4671f" stroke-width="5.5"/><polygon points="347.0,653.6 366.7,673.8 346.2,681.8" fill="#c4671f" />
<line x1="712.0" y1="780.7" x2="934.9" y2="700.4" stroke="#52c8ee" stroke-width="6.5"/><polygon points="957.5,692.3 936.8,711.5 929.3,690.8" fill="#52c8ee" />
<line x1="504.3" y1="903.4" x2="394.2" y2="989.2" stroke="#70a84c" stroke-width="6.0"/><polygon points="375.3,1004.0 389.0,979.3 402.6,996.7" fill="#70a84c" />
<line x1="712.0" y1="919.0" x2="936.5" y2="1042.8" stroke="#3c16ee" stroke-width="6.0"/><polygon points="957.5,1054.4 929.4,1051.5 940.0,1032.2" fill="#3c16ee" />
<polygon points="253.0,890.0 520.0,843.0 520.0,887.0 264.0,944.0" fill="#70a84c" />
<polygon points="262.0,898.0 520.0,852.0 520.0,878.0 270.0,935.0" fill="#d0661c" />
<ellipse cx="337.5" cy="880" rx="42" ry="40" fill="#70a84c"/>
<ellipse cx="338.5" cy="881" rx="32" ry="30" fill="#3c16ee"/>
<polygon points="321.0,870.0 329.0,861.0 340.0,869.0 331.0,879.0" fill="#5ad6f4" />
<polygon points="262.0,898.0 520.0,852.0 520.0,878.0 270.0,935.0" fill="#d0661c" />
<polyline points="253,890 300,881.8" stroke="#70a84c" stroke-width="8" fill="none"/>
<polyline points="376,868.5 520,843" stroke="#70a84c" stroke-width="0" fill="none"/>
<polygon points="700.0,800.0 849.0,776.0 855.0,826.0 705.0,849.0" fill="#70a84c" />
<polygon points="700.0,808.0 842.0,785.0 847.0,817.0 705.0,840.0" fill="#d0661c" />
<ellipse cx="644.5" cy="730" rx="19" ry="19" fill="#70a84c"/>
<ellipse cx="640" cy="762" rx="40" ry="35" fill="#d0661c"/>
<polygon points="551.5,736.6 726.0,771.3 728.0,790.0 756.0,872.0 694.7,960.0 513.8,931.7 505.9,894.0 485.4,828.0 491.7,818.5" fill="#70a84c" />
<polygon points="557.8,757.1 719.9,783.8 741.9,872.0 505.9,807.4" fill="#52c8ee" />
<polygon points="505.9,807.4 741.9,872.0 686.8,947.5 532.6,919.1 509.0,828.0" fill="#3c16ee" />
<polygon points="127.0,740.0 150.0,772.0 131.0,798.0 103.0,773.0" fill="#3ed6de" />
<polygon points="127.0,740.0 150.0,772.0 131.0,798.0" fill="#000" fill-opacity="0.08"/>
<circle cx="127.0" cy="732.0" r="7.0" fill="url(#gO)"/>
<circle cx="95.5" cy="776.0" r="7.0" fill="url(#gO)"/>
<circle cx="132.0" cy="805.0" r="7.0" fill="url(#gO)"/>
<circle cx="147.0" cy="776.0" r="7.0" fill="url(#gO)"/>
<circle cx="160.5" cy="766.0" r="7.0" fill="url(#gO)"/>
<circle cx="116.0" cy="765.0" r="5.0" fill="#5aa8b0"/>
<polygon points="238.0,740.0 266.0,766.0 240.0,797.0 210.0,769.0" fill="#e0429e" />
<polygon points="238.0,740.0 266.0,766.0 240.0,797.0" fill="#000" fill-opacity="0.08"/>
<circle cx="238.0" cy="733.0" r="7.0" fill="url(#gO)"/>
<circle cx="204.5" cy="769.0" r="7.0" fill="url(#gO)"/>
<circle cx="271.6" cy="765.0" r="7.0" fill="url(#gO)"/>
<circle cx="240.0" cy="799.4" r="7.0" fill="url(#gO)"/>
<circle cx="246.5" cy="771.0" r="7.0" fill="url(#gO)"/>
<ellipse cx="910" cy="865" rx="37" ry="34" fill="#3ee048"/>
<ellipse cx="918" cy="872" rx="20" ry="18" fill="#30c83a" fill-opacity="0.6"/>
<circle cx="883.5" cy="834.5" r="6.0" fill="url(#gO)"/>
<circle cx="922.0" cy="826.0" r="6.0" fill="url(#gO)"/>
<circle cx="950.0" cy="855.5" r="6.0" fill="url(#gO)"/>
<circle cx="875.0" cy="869.0" r="6.0" fill="url(#gO)"/>
<circle cx="880.0" cy="890.0" r="6.0" fill="url(#gO)"/>
<circle cx="902.0" cy="899.0" r="6.0" fill="url(#gO)"/>
<circle cx="938.0" cy="893.0" r="6.0" fill="url(#gO)"/>
<circle cx="931.5" cy="875.0" r="6.0" fill="url(#gO)"/>
<circle cx="902.0" cy="843.0" r="6.0" fill="url(#gO)"/>
<circle cx="928.0" cy="845.0" r="6.0" fill="url(#gO)"/>
<circle cx="890.0" cy="857.0" r="6.0" fill="url(#gO)"/>
<circle cx="912.0" cy="879.0" r="6.0" fill="url(#gO)"/>
<circle cx="944.0" cy="872.0" r="6.0" fill="url(#gO)"/>
<circle cx="870.0" cy="850.0" r="6.0" fill="url(#gO)"/>
<polygon points="1015.0,830.0 1038.0,856.0 1021.0,889.0 995.0,862.0" fill="#3ed6de" />
<polygon points="1015.0,830.0 1038.0,856.0 1021.0,889.0" fill="#000" fill-opacity="0.08"/>
<circle cx="1014.8" cy="824.0" r="8.0" fill="url(#gO)"/>
<circle cx="984.0" cy="867.0" r="8.0" fill="url(#gO)"/>
<circle cx="1020.6" cy="895.0" r="8.0" fill="url(#gO)"/>
<circle cx="1035.0" cy="866.0" r="8.0" fill="url(#gO)"/>
<circle cx="1047.5" cy="857.7" r="8.0" fill="url(#gO)"/>
<polygon points="1130.0,827.0 1155.0,855.0 1135.0,890.0 1104.0,862.0" fill="#e6a6c6" />
<polygon points="1130.0,827.0 1155.0,855.0 1135.0,890.0" fill="#000" fill-opacity="0.06"/>
<circle cx="1129.0" cy="821.0" r="8.0" fill="url(#gO)"/>
<circle cx="1097.5" cy="865.0" r="8.0" fill="url(#gO)"/>
<circle cx="1135.0" cy="894.0" r="8.0" fill="url(#gO)"/>
<circle cx="1148.5" cy="865.0" r="8.0" fill="url(#gO)"/>
<circle cx="1164.0" cy="855.8" r="8.0" fill="url(#gO)"/>
<polygon points="1246.5,829.0 1272.0,855.0 1252.0,889.0 1222.0,862.0" fill="#a42a2e" />
<polygon points="1246.5,829.0 1272.0,855.0 1252.0,889.0" fill="#000" fill-opacity="0.10"/>
<circle cx="1246.5" cy="823.0" r="8.0" fill="url(#gO)"/>
<circle cx="1215.8" cy="865.0" r="8.0" fill="url(#gO)"/>
<circle cx="1252.0" cy="893.0" r="8.0" fill="url(#gO)"/>
<circle cx="1265.8" cy="863.5" r="8.0" fill="url(#gO)"/>
<circle cx="1279.0" cy="855.8" r="8.0" fill="url(#gO)"/>
<circle cx="1235.0" cy="856.0" r="8.0" fill="url(#gO)"/>
<line x1="416.8" y1="501.3" x2="575.0" y2="501.3" stroke="#111" stroke-width="5.6"/><polygon points="599.0,501.3 573.0,512.8 573.0,489.8" fill="#111" />
<circle cx="507.7" cy="537.6" r="18.0" fill="url(#gNa)"/>
<line x1="425.0" y1="1232.0" x2="535.0" y2="1232.0" stroke="#111" stroke-width="5.5"/><polygon points="557.0,1232.0 533.0,1242.5 533.0,1221.5" fill="#111" />
<clipPath id="cpw"><polygon points="80.0,1050.0 180.0,1028.0 235.0,1038.0 340.0,1062.0 372.0,1150.0 395.0,1200.0 398.0,1245.0 340.0,1262.0 330.0,1380.0 280.0,1372.0 216.0,1360.0 172.0,1350.0 111.0,1336.0 70.0,1325.0 40.0,1240.0 15.0,1190.0 10.0,1140.0 60.0,1128.0 78.0,1090.0"/></clipPath>
<g clip-path="url(#cpw)">
<polygon points="-122.2,916.0 -71.5,905.0 -61.3,939.0 -112.0,950.0" fill="#b2b2b2" />
<polygon points="-71.5,905.0 -61.3,939.0 -112.0,950.0" fill="#000" fill-opacity="0.10"/>
<polygon points="-112.0,950.0 -61.3,939.0 -51.1,973.0 -101.8,984.0" fill="#b2b2b2" />
<polygon points="-61.3,939.0 -51.1,973.0 -101.8,984.0" fill="#000" fill-opacity="0.10"/>
<polygon points="-95.8,979.0 -57.1,968.0 -57.1,974.0 -95.8,985.0" fill="#ffffff" />
<polygon points="-101.8,984.0 -51.1,973.0 -40.9,1007.0 -91.6,1018.0" fill="#b2b2b2" />
<polygon points="-51.1,973.0 -40.9,1007.0 -91.6,1018.0" fill="#000" fill-opacity="0.10"/>
<polygon points="-91.6,1018.0 -40.9,1007.0 -30.7,1041.0 -81.4,1052.0" fill="#b2b2b2" />
<polygon points="-40.9,1007.0 -30.7,1041.0 -81.4,1052.0" fill="#000" fill-opacity="0.10"/>
<polygon points="-75.4,1047.0 -36.7,1036.0 -36.7,1042.0 -75.4,1053.0" fill="#ffffff" />
<polygon points="-81.4,1052.0 -30.7,1041.0 -20.5,1075.0 -71.2,1086.0" fill="#b2b2b2" />
<polygon points="-30.7,1041.0 -20.5,1075.0 -71.2,1086.0" fill="#000" fill-opacity="0.10"/>
<polygon points="-71.2,1086.0 -20.5,1075.0 -10.3,1109.0 -61.0,1120.0" fill="#b2b2b2" />
<polygon points="-20.5,1075.0 -10.3,1109.0 -61.0,1120.0" fill="#000" fill-opacity="0.10"/>
<polygon points="-55.0,1115.0 -16.3,1104.0 -16.3,1110.0 -55.0,1121.0" fill="#ffffff" />
<polygon points="-61.0,1120.0 -10.3,1109.0 -0.1,1143.0 -50.8,1154.0" fill="#b2b2b2" />
<polygon points="-10.3,1109.0 -0.1,1143.0 -50.8,1154.0" fill="#000" fill-opacity="0.10"/>
<polygon points="-50.8,1154.0 -0.1,1143.0 10.1,1177.0 -40.6,1188.0" fill="#b2b2b2" />
<polygon points="-0.1,1143.0 10.1,1177.0 -40.6,1188.0" fill="#000" fill-opacity="0.10"/>
<polygon points="-34.6,1183.0 4.1,1172.0 4.1,1178.0 -34.6,1189.0" fill="#ffffff" />
<polygon points="-40.6,1188.0 10.1,1177.0 20.3,1211.0 -30.4,1222.0" fill="#b2b2b2" />
<polygon points="10.1,1177.0 20.3,1211.0 -30.4,1222.0" fill="#000" fill-opacity="0.10"/>
<polygon points="-30.4,1222.0 20.3,1211.0 30.5,1245.0 -20.2,1256.0" fill="#b2b2b2" />
<polygon points="20.3,1211.0 30.5,1245.0 -20.2,1256.0" fill="#000" fill-opacity="0.10"/>
<polygon points="-14.2,1251.0 24.5,1240.0 24.5,1246.0 -14.2,1257.0" fill="#ffffff" />
<polygon points="-20.2,1256.0 30.5,1245.0 40.7,1279.0 -10.0,1290.0" fill="#b2b2b2" />
<polygon points="30.5,1245.0 40.7,1279.0 -10.0,1290.0" fill="#000" fill-opacity="0.10"/>
<polygon points="-10.0,1290.0 40.7,1279.0 50.9,1313.0 0.2,1324.0" fill="#b2b2b2" />
<polygon points="40.7,1279.0 50.9,1313.0 0.2,1324.0" fill="#000" fill-opacity="0.10"/>
<polygon points="6.2,1319.0 44.9,1308.0 44.9,1314.0 6.2,1325.0" fill="#ffffff" />
<polygon points="0.2,1324.0 50.9,1313.0 61.1,1347.0 10.4,1358.0" fill="#b2b2b2" />
<polygon points="50.9,1313.0 61.1,1347.0 10.4,1358.0" fill="#000" fill-opacity="0.10"/>
<polygon points="10.4,1358.0 61.1,1347.0 71.3,1381.0 20.6,1392.0" fill="#b2b2b2" />
<polygon points="61.1,1347.0 71.3,1381.0 20.6,1392.0" fill="#000" fill-opacity="0.10"/>
<polygon points="26.6,1387.0 65.3,1376.0 65.3,1382.0 26.6,1393.0" fill="#ffffff" />
<polygon points="20.6,1392.0 71.3,1381.0 81.5,1415.0 30.8,1426.0" fill="#b2b2b2" />
<polygon points="71.3,1381.0 81.5,1415.0 30.8,1426.0" fill="#000" fill-opacity="0.10"/>
<polygon points="30.8,1426.0 81.5,1415.0 91.7,1449.0 41.0,1460.0" fill="#b2b2b2" />
<polygon points="81.5,1415.0 91.7,1449.0 41.0,1460.0" fill="#000" fill-opacity="0.10"/>
<polygon points="47.0,1455.0 85.7,1444.0 85.7,1450.0 47.0,1461.0" fill="#ffffff" />
<polygon points="-70.0,910.0 -19.3,899.0 -9.1,933.0 -59.8,944.0" fill="#b2b2b2" />
<polygon points="-19.3,899.0 -9.1,933.0 -59.8,944.0" fill="#000" fill-opacity="0.10"/>
<polygon points="-53.8,939.0 -15.1,928.0 -15.1,934.0 -53.8,945.0" fill="#ffffff" />
<polygon points="-59.8,944.0 -9.1,933.0 1.1,967.0 -49.6,978.0" fill="#b2b2b2" />
<polygon points="-9.1,933.0 1.1,967.0 -49.6,978.0" fill="#000" fill-opacity="0.10"/>
<polygon points="-49.6,978.0 1.1,967.0 11.3,1001.0 -39.4,1012.0" fill="#b2b2b2" />
<polygon points="1.1,967.0 11.3,1001.0 -39.4,1012.0" fill="#000" fill-opacity="0.10"/>
<polygon points="-33.4,1007.0 5.3,996.0 5.3,1002.0 -33.4,1013.0" fill="#ffffff" />
<polygon points="-39.4,1012.0 11.3,1001.0 21.5,1035.0 -29.2,1046.0" fill="#b2b2b2" />
<polygon points="11.3,1001.0 21.5,1035.0 -29.2,1046.0" fill="#000" fill-opacity="0.10"/>
<polygon points="-29.2,1046.0 21.5,1035.0 31.7,1069.0 -19.0,1080.0" fill="#b2b2b2" />
<polygon points="21.5,1035.0 31.7,1069.0 -19.0,1080.0" fill="#000" fill-opacity="0.10"/>
<polygon points="-13.0,1075.0 25.7,1064.0 25.7,1070.0 -13.0,1081.0" fill="#ffffff" />
<polygon points="-19.0,1080.0 31.7,1069.0 41.9,1103.0 -8.8,1114.0" fill="#b2b2b2" />
<polygon points="31.7,1069.0 41.9,1103.0 -8.8,1114.0" fill="#000" fill-opacity="0.10"/>
<polygon points="-8.8,1114.0 41.9,1103.0 52.1,1137.0 1.4,1148.0" fill="#b2b2b2" />
<polygon points="41.9,1103.0 52.1,1137.0 1.4,1148.0" fill="#000" fill-opacity="0.10"/>
<polygon points="7.4,1143.0 46.1,1132.0 46.1,1138.0 7.4,1149.0" fill="#ffffff" />
<polygon points="1.4,1148.0 52.1,1137.0 62.3,1171.0 11.6,1182.0" fill="#b2b2b2" />
<polygon points="52.1,1137.0 62.3,1171.0 11.6,1182.0" fill="#000" fill-opacity="0.10"/>
<polygon points="11.6,1182.0 62.3,1171.0 72.5,1205.0 21.8,1216.0" fill="#b2b2b2" />
<polygon points="62.3,1171.0 72.5,1205.0 21.8,1216.0" fill="#000" fill-opacity="0.10"/>
<polygon points="27.8,1211.0 66.5,1200.0 66.5,1206.0 27.8,1217.0" fill="#ffffff" />
<polygon points="21.8,1216.0 72.5,1205.0 82.7,1239.0 32.0,1250.0" fill="#b2b2b2" />
<polygon points="72.5,1205.0 82.7,1239.0 32.0,1250.0" fill="#000" fill-opacity="0.10"/>
<polygon points="32.0,1250.0 82.7,1239.0 92.9,1273.0 42.2,1284.0" fill="#b2b2b2" />
<polygon points="82.7,1239.0 92.9,1273.0 42.2,1284.0" fill="#000" fill-opacity="0.10"/>
<polygon points="48.2,1279.0 86.9,1268.0 86.9,1274.0 48.2,1285.0" fill="#ffffff" />
<polygon points="42.2,1284.0 92.9,1273.0 103.1,1307.0 52.4,1318.0" fill="#b2b2b2" />
<polygon points="92.9,1273.0 103.1,1307.0 52.4,1318.0" fill="#000" fill-opacity="0.10"/>
<polygon points="52.4,1318.0 103.1,1307.0 113.3,1341.0 62.6,1352.0" fill="#b2b2b2" />
<polygon points="103.1,1307.0 113.3,1341.0 62.6,1352.0" fill="#000" fill-opacity="0.10"/>
<polygon points="68.6,1347.0 107.3,1336.0 107.3,1342.0 68.6,1353.0" fill="#ffffff" />
<polygon points="62.6,1352.0 113.3,1341.0 123.5,1375.0 72.8,1386.0" fill="#b2b2b2" />
<polygon points="113.3,1341.0 123.5,1375.0 72.8,1386.0" fill="#000" fill-opacity="0.10"/>
<polygon points="72.8,1386.0 123.5,1375.0 133.7,1409.0 83.0,1420.0" fill="#b2b2b2" />
<polygon points="123.5,1375.0 133.7,1409.0 83.0,1420.0" fill="#000" fill-opacity="0.10"/>
<polygon points="89.0,1415.0 127.7,1404.0 127.7,1410.0 89.0,1421.0" fill="#ffffff" />
<polygon points="83.0,1420.0 133.7,1409.0 143.9,1443.0 93.2,1454.0" fill="#b2b2b2" />
<polygon points="133.7,1409.0 143.9,1443.0 93.2,1454.0" fill="#000" fill-opacity="0.10"/>
<polygon points="-7.6,938.0 43.1,927.0 53.3,961.0 2.6,972.0" fill="#b2b2b2" />
<polygon points="43.1,927.0 53.3,961.0 2.6,972.0" fill="#000" fill-opacity="0.10"/>
<polygon points="2.6,972.0 53.3,961.0 63.5,995.0 12.8,1006.0" fill="#b2b2b2" />
<polygon points="53.3,961.0 63.5,995.0 12.8,1006.0" fill="#000" fill-opacity="0.10"/>
<polygon points="18.8,1001.0 57.5,990.0 57.5,996.0 18.8,1007.0" fill="#ffffff" />
<polygon points="12.8,1006.0 63.5,995.0 73.7,1029.0 23.0,1040.0" fill="#b2b2b2" />
<polygon points="63.5,995.0 73.7,1029.0 23.0,1040.0" fill="#000" fill-opacity="0.10"/>
<polygon points="23.0,1040.0 73.7,1029.0 83.9,1063.0 33.2,1074.0" fill="#b2b2b2" />
<polygon points="73.7,1029.0 83.9,1063.0 33.2,1074.0" fill="#000" fill-opacity="0.10"/>
<polygon points="39.2,1069.0 77.9,1058.0 77.9,1064.0 39.2,1075.0" fill="#ffffff" />
<polygon points="33.2,1074.0 83.9,1063.0 94.1,1097.0 43.4,1108.0" fill="#b2b2b2" />
<polygon points="83.9,1063.0 94.1,1097.0 43.4,1108.0" fill="#000" fill-opacity="0.10"/>
<polygon points="43.4,1108.0 94.1,1097.0 104.3,1131.0 53.6,1142.0" fill="#b2b2b2" />
<polygon points="94.1,1097.0 104.3,1131.0 53.6,1142.0" fill="#000" fill-opacity="0.10"/>
<polygon points="59.6,1137.0 98.3,1126.0 98.3,1132.0 59.6,1143.0" fill="#ffffff" />
<polygon points="53.6,1142.0 104.3,1131.0 114.5,1165.0 63.8,1176.0" fill="#b2b2b2" />
<polygon points="104.3,1131.0 114.5,1165.0 63.8,1176.0" fill="#000" fill-opacity="0.10"/>
<polygon points="63.8,1176.0 114.5,1165.0 124.7,1199.0 74.0,1210.0" fill="#b2b2b2" />
<polygon points="114.5,1165.0 124.7,1199.0 74.0,1210.0" fill="#000" fill-opacity="0.10"/>
<polygon points="80.0,1205.0 118.7,1194.0 118.7,1200.0 80.0,1211.0" fill="#ffffff" />
<polygon points="74.0,1210.0 124.7,1199.0 134.9,1233.0 84.2,1244.0" fill="#b2b2b2" />
<polygon points="124.7,1199.0 134.9,1233.0 84.2,1244.0" fill="#000" fill-opacity="0.10"/>
<polygon points="84.2,1244.0 134.9,1233.0 145.1,1267.0 94.4,1278.0" fill="#b2b2b2" />
<polygon points="134.9,1233.0 145.1,1267.0 94.4,1278.0" fill="#000" fill-opacity="0.10"/>
<polygon points="100.4,1273.0 139.1,1262.0 139.1,1268.0 100.4,1279.0" fill="#ffffff" />
<polygon points="94.4,1278.0 145.1,1267.0 155.3,1301.0 104.6,1312.0" fill="#b2b2b2" />
<polygon points="145.1,1267.0 155.3,1301.0 104.6,1312.0" fill="#000" fill-opacity="0.10"/>
<polygon points="104.6,1312.0 155.3,1301.0 165.5,1335.0 114.8,1346.0" fill="#b2b2b2" />
<polygon points="155.3,1301.0 165.5,1335.0 114.8,1346.0" fill="#000" fill-opacity="0.10"/>
<polygon points="120.8,1341.0 159.5,1330.0 159.5,1336.0 120.8,1347.0" fill="#ffffff" />
<polygon points="114.8,1346.0 165.5,1335.0 175.7,1369.0 125.0,1380.0" fill="#b2b2b2" />
<polygon points="165.5,1335.0 175.7,1369.0 125.0,1380.0" fill="#000" fill-opacity="0.10"/>
<polygon points="125.0,1380.0 175.7,1369.0 185.9,1403.0 135.2,1414.0" fill="#b2b2b2" />
<polygon points="175.7,1369.0 185.9,1403.0 135.2,1414.0" fill="#000" fill-opacity="0.10"/>
<polygon points="141.2,1409.0 179.9,1398.0 179.9,1404.0 141.2,1415.0" fill="#ffffff" />
<polygon points="135.2,1414.0 185.9,1403.0 196.1,1437.0 145.4,1448.0" fill="#b2b2b2" />
<polygon points="185.9,1403.0 196.1,1437.0 145.4,1448.0" fill="#000" fill-opacity="0.10"/>
<polygon points="145.4,1448.0 196.1,1437.0 206.3,1471.0 155.6,1482.0" fill="#b2b2b2" />
<polygon points="196.1,1437.0 206.3,1471.0 155.6,1482.0" fill="#000" fill-opacity="0.10"/>
<polygon points="161.6,1477.0 200.3,1466.0 200.3,1472.0 161.6,1483.0" fill="#ffffff" />
<polygon points="44.6,932.0 95.3,921.0 105.5,955.0 54.8,966.0" fill="#b2b2b2" />
<polygon points="95.3,921.0 105.5,955.0 54.8,966.0" fill="#000" fill-opacity="0.10"/>
<polygon points="60.8,961.0 99.5,950.0 99.5,956.0 60.8,967.0" fill="#ffffff" />
<polygon points="54.8,966.0 105.5,955.0 115.7,989.0 65.0,1000.0" fill="#b2b2b2" />
<polygon points="105.5,955.0 115.7,989.0 65.0,1000.0" fill="#000" fill-opacity="0.10"/>
<polygon points="65.0,1000.0 115.7,989.0 125.9,1023.0 75.2,1034.0" fill="#b2b2b2" />
<polygon points="115.7,989.0 125.9,1023.0 75.2,1034.0" fill="#000" fill-opacity="0.10"/>
<polygon points="81.2,1029.0 119.9,1018.0 119.9,1024.0 81.2,1035.0" fill="#ffffff" />
<polygon points="75.2,1034.0 125.9,1023.0 136.1,1057.0 85.4,1068.0" fill="#b2b2b2" />
<polygon points="125.9,1023.0 136.1,1057.0 85.4,1068.0" fill="#000" fill-opacity="0.10"/>
<polygon points="85.4,1068.0 136.1,1057.0 146.3,1091.0 95.6,1102.0" fill="#c4cc22" />
<circle cx="115.8" cy="1079.5" r="5" fill="#d4dc2c"/>
<polygon points="95.6,1102.0 146.3,1091.0 156.5,1125.0 105.8,1136.0" fill="#c4cc22" />
<circle cx="126.0" cy="1113.5" r="5" fill="#d4dc2c"/>
<polygon points="105.8,1136.0 156.5,1125.0 166.7,1159.0 116.0,1170.0" fill="#c4cc22" />
<circle cx="136.2" cy="1147.5" r="5" fill="#d4dc2c"/>
<polygon points="116.0,1170.0 166.7,1159.0 176.9,1193.0 126.2,1204.0" fill="#c4cc22" />
<circle cx="146.4" cy="1181.5" r="5" fill="#d4dc2c"/>
<polygon points="126.2,1204.0 176.9,1193.0 187.1,1227.0 136.4,1238.0" fill="#c4cc22" />
<circle cx="156.6" cy="1215.5" r="5" fill="#d4dc2c"/>
<polygon points="136.4,1238.0 187.1,1227.0 197.3,1261.0 146.6,1272.0" fill="#c4cc22" />
<circle cx="166.8" cy="1249.5" r="5" fill="#d4dc2c"/>
<polygon points="146.6,1272.0 197.3,1261.0 207.5,1295.0 156.8,1306.0" fill="#c4cc22" />
<circle cx="177.1" cy="1283.5" r="5" fill="#d4dc2c"/>
<polygon points="156.8,1306.0 207.5,1295.0 217.7,1329.0 167.0,1340.0" fill="#c4cc22" />
<circle cx="187.2" cy="1317.5" r="5" fill="#d4dc2c"/>
<polygon points="167.0,1340.0 217.7,1329.0 227.9,1363.0 177.2,1374.0" fill="#b2b2b2" />
<polygon points="217.7,1329.0 227.9,1363.0 177.2,1374.0" fill="#000" fill-opacity="0.10"/>
<polygon points="183.2,1369.0 221.9,1358.0 221.9,1364.0 183.2,1375.0" fill="#ffffff" />
<polygon points="177.2,1374.0 227.9,1363.0 238.1,1397.0 187.4,1408.0" fill="#b2b2b2" />
<polygon points="227.9,1363.0 238.1,1397.0 187.4,1408.0" fill="#000" fill-opacity="0.10"/>
<polygon points="187.4,1408.0 238.1,1397.0 248.3,1431.0 197.6,1442.0" fill="#b2b2b2" />
<polygon points="238.1,1397.0 248.3,1431.0 197.6,1442.0" fill="#000" fill-opacity="0.10"/>
<polygon points="203.6,1437.0 242.3,1426.0 242.3,1432.0 203.6,1443.0" fill="#ffffff" />
<polygon points="197.6,1442.0 248.3,1431.0 258.5,1465.0 207.8,1476.0" fill="#b2b2b2" />
<polygon points="248.3,1431.0 258.5,1465.0 207.8,1476.0" fill="#000" fill-opacity="0.10"/>
<polygon points="107.0,960.0 157.7,949.0 167.9,983.0 117.2,994.0" fill="#b2b2b2" />
<polygon points="157.7,949.0 167.9,983.0 117.2,994.0" fill="#000" fill-opacity="0.10"/>
<polygon points="117.2,994.0 167.9,983.0 178.1,1017.0 127.4,1028.0" fill="#b2b2b2" />
<polygon points="167.9,983.0 178.1,1017.0 127.4,1028.0" fill="#000" fill-opacity="0.10"/>
<polygon points="133.4,1023.0 172.1,1012.0 172.1,1018.0 133.4,1029.0" fill="#ffffff" />
<polygon points="127.4,1028.0 178.1,1017.0 188.3,1051.0 137.6,1062.0" fill="#b2b2b2" />
<polygon points="178.1,1017.0 188.3,1051.0 137.6,1062.0" fill="#000" fill-opacity="0.10"/>
<polygon points="137.6,1062.0 188.3,1051.0 198.5,1085.0 147.8,1096.0" fill="#c4cc22" />
<circle cx="168.1" cy="1073.5" r="5" fill="#d4dc2c"/>
<polygon points="147.8,1096.0 198.5,1085.0 208.7,1119.0 158.0,1130.0" fill="#c4cc22" />
<circle cx="178.2" cy="1107.5" r="5" fill="#d4dc2c"/>
<polygon points="158.0,1130.0 208.7,1119.0 218.9,1153.0 168.2,1164.0" fill="#c4cc22" />
<circle cx="188.4" cy="1141.5" r="5" fill="#d4dc2c"/>
<polygon points="168.2,1164.0 218.9,1153.0 229.1,1187.0 178.4,1198.0" fill="#c4cc22" />
<circle cx="198.7" cy="1175.5" r="5" fill="#d4dc2c"/>
<polygon points="178.4,1198.0 229.1,1187.0 239.3,1221.0 188.6,1232.0" fill="#c4cc22" />
<circle cx="208.8" cy="1209.5" r="5" fill="#d4dc2c"/>
<polygon points="188.6,1232.0 239.3,1221.0 249.5,1255.0 198.8,1266.0" fill="#c4cc22" />
<circle cx="219.1" cy="1243.5" r="5" fill="#d4dc2c"/>
<polygon points="198.8,1266.0 249.5,1255.0 259.7,1289.0 209.0,1300.0" fill="#c4cc22" />
<circle cx="229.2" cy="1277.5" r="5" fill="#d4dc2c"/>
<polygon points="209.0,1300.0 259.7,1289.0 269.9,1323.0 219.2,1334.0" fill="#c4cc22" />
<circle cx="239.4" cy="1311.5" r="5" fill="#d4dc2c"/>
<polygon points="219.2,1334.0 269.9,1323.0 280.1,1357.0 229.4,1368.0" fill="#b2b2b2" />
<polygon points="269.9,1323.0 280.1,1357.0 229.4,1368.0" fill="#000" fill-opacity="0.10"/>
<polygon points="235.4,1363.0 274.1,1352.0 274.1,1358.0 235.4,1369.0" fill="#ffffff" />
<polygon points="229.4,1368.0 280.1,1357.0 290.3,1391.0 239.6,1402.0" fill="#b2b2b2" />
<polygon points="280.1,1357.0 290.3,1391.0 239.6,1402.0" fill="#000" fill-opacity="0.10"/>
<polygon points="239.6,1402.0 290.3,1391.0 300.5,1425.0 249.8,1436.0" fill="#b2b2b2" />
<polygon points="290.3,1391.0 300.5,1425.0 249.8,1436.0" fill="#000" fill-opacity="0.10"/>
<polygon points="255.8,1431.0 294.5,1420.0 294.5,1426.0 255.8,1437.0" fill="#ffffff" />
<polygon points="249.8,1436.0 300.5,1425.0 310.7,1459.0 260.0,1470.0" fill="#b2b2b2" />
<polygon points="300.5,1425.0 310.7,1459.0 260.0,1470.0" fill="#000" fill-opacity="0.10"/>
<polygon points="260.0,1470.0 310.7,1459.0 320.9,1493.0 270.2,1504.0" fill="#b2b2b2" />
<polygon points="310.7,1459.0 320.9,1493.0 270.2,1504.0" fill="#000" fill-opacity="0.10"/>
<polygon points="276.2,1499.0 314.9,1488.0 314.9,1494.0 276.2,1505.0" fill="#ffffff" />
<polygon points="159.2,954.0 209.9,943.0 220.1,977.0 169.4,988.0" fill="#b2b2b2" />
<polygon points="209.9,943.0 220.1,977.0 169.4,988.0" fill="#000" fill-opacity="0.10"/>
<polygon points="175.4,983.0 214.1,972.0 214.1,978.0 175.4,989.0" fill="#ffffff" />
<polygon points="169.4,988.0 220.1,977.0 230.3,1011.0 179.6,1022.0" fill="#b2b2b2" />
<polygon points="220.1,977.0 230.3,1011.0 179.6,1022.0" fill="#000" fill-opacity="0.10"/>
<polygon points="179.6,1022.0 230.3,1011.0 240.5,1045.0 189.8,1056.0" fill="#b2b2b2" />
<polygon points="230.3,1011.0 240.5,1045.0 189.8,1056.0" fill="#000" fill-opacity="0.10"/>
<polygon points="195.8,1051.0 234.5,1040.0 234.5,1046.0 195.8,1057.0" fill="#ffffff" />
<polygon points="189.8,1056.0 240.5,1045.0 250.7,1079.0 200.0,1090.0" fill="#b2b2b2" />
<polygon points="240.5,1045.0 250.7,1079.0 200.0,1090.0" fill="#000" fill-opacity="0.10"/>
<polygon points="200.0,1090.0 250.7,1079.0 260.9,1113.0 210.2,1124.0" fill="#b2b2b2" />
<polygon points="250.7,1079.0 260.9,1113.0 210.2,1124.0" fill="#000" fill-opacity="0.10"/>
<polygon points="216.2,1119.0 254.9,1108.0 254.9,1114.0 216.2,1125.0" fill="#ffffff" />
<polygon points="210.2,1124.0 260.9,1113.0 271.1,1147.0 220.4,1158.0" fill="#b2b2b2" />
<polygon points="260.9,1113.0 271.1,1147.0 220.4,1158.0" fill="#000" fill-opacity="0.10"/>
<polygon points="220.4,1158.0 271.1,1147.0 281.3,1181.0 230.6,1192.0" fill="#b2b2b2" />
<polygon points="271.1,1147.0 281.3,1181.0 230.6,1192.0" fill="#000" fill-opacity="0.10"/>
<polygon points="236.6,1187.0 275.3,1176.0 275.3,1182.0 236.6,1193.0" fill="#ffffff" />
<polygon points="230.6,1192.0 281.3,1181.0 291.5,1215.0 240.8,1226.0" fill="#b2b2b2" />
<polygon points="281.3,1181.0 291.5,1215.0 240.8,1226.0" fill="#000" fill-opacity="0.10"/>
<polygon points="240.8,1226.0 291.5,1215.0 301.7,1249.0 251.0,1260.0" fill="#b2b2b2" />
<polygon points="291.5,1215.0 301.7,1249.0 251.0,1260.0" fill="#000" fill-opacity="0.10"/>
<polygon points="257.0,1255.0 295.7,1244.0 295.7,1250.0 257.0,1261.0" fill="#ffffff" />
<polygon points="251.0,1260.0 301.7,1249.0 311.9,1283.0 261.2,1294.0" fill="#b2b2b2" />
<polygon points="301.7,1249.0 311.9,1283.0 261.2,1294.0" fill="#000" fill-opacity="0.10"/>
<polygon points="261.2,1294.0 311.9,1283.0 322.1,1317.0 271.4,1328.0" fill="#b2b2b2" />
<polygon points="311.9,1283.0 322.1,1317.0 271.4,1328.0" fill="#000" fill-opacity="0.10"/>
<polygon points="277.4,1323.0 316.1,1312.0 316.1,1318.0 277.4,1329.0" fill="#ffffff" />
<polygon points="271.4,1328.0 322.1,1317.0 332.3,1351.0 281.6,1362.0" fill="#b2b2b2" />
<polygon points="322.1,1317.0 332.3,1351.0 281.6,1362.0" fill="#000" fill-opacity="0.10"/>
<polygon points="281.6,1362.0 332.3,1351.0 342.5,1385.0 291.8,1396.0" fill="#b2b2b2" />
<polygon points="332.3,1351.0 342.5,1385.0 291.8,1396.0" fill="#000" fill-opacity="0.10"/>
<polygon points="297.8,1391.0 336.5,1380.0 336.5,1386.0 297.8,1397.0" fill="#ffffff" />
<polygon points="291.8,1396.0 342.5,1385.0 352.7,1419.0 302.0,1430.0" fill="#b2b2b2" />
<polygon points="342.5,1385.0 352.7,1419.0 302.0,1430.0" fill="#000" fill-opacity="0.10"/>
<polygon points="302.0,1430.0 352.7,1419.0 362.9,1453.0 312.2,1464.0" fill="#b2b2b2" />
<polygon points="352.7,1419.0 362.9,1453.0 312.2,1464.0" fill="#000" fill-opacity="0.10"/>
<polygon points="318.2,1459.0 356.9,1448.0 356.9,1454.0 318.2,1465.0" fill="#ffffff" />
<polygon points="312.2,1464.0 362.9,1453.0 373.1,1487.0 322.4,1498.0" fill="#b2b2b2" />
<polygon points="362.9,1453.0 373.1,1487.0 322.4,1498.0" fill="#000" fill-opacity="0.10"/>
<polygon points="221.6,982.0 272.3,971.0 282.5,1005.0 231.8,1016.0" fill="#b2b2b2" />
<polygon points="272.3,971.0 282.5,1005.0 231.8,1016.0" fill="#000" fill-opacity="0.10"/>
<polygon points="231.8,1016.0 282.5,1005.0 292.7,1039.0 242.0,1050.0" fill="#b2b2b2" />
<polygon points="282.5,1005.0 292.7,1039.0 242.0,1050.0" fill="#000" fill-opacity="0.10"/>
<polygon points="248.0,1045.0 286.7,1034.0 286.7,1040.0 248.0,1051.0" fill="#ffffff" />
<polygon points="242.0,1050.0 292.7,1039.0 302.9,1073.0 252.2,1084.0" fill="#c4cc22" />
<circle cx="272.4" cy="1061.5" r="5" fill="#d4dc2c"/>
<polygon points="252.2,1084.0 302.9,1073.0 313.1,1107.0 262.4,1118.0" fill="#c4cc22" />
<circle cx="282.6" cy="1095.5" r="5" fill="#d4dc2c"/>
<polygon points="262.4,1118.0 313.1,1107.0 323.3,1141.0 272.6,1152.0" fill="#c4cc22" />
<circle cx="292.9" cy="1129.5" r="5" fill="#d4dc2c"/>
<polygon points="272.6,1152.0 323.3,1141.0 333.5,1175.0 282.8,1186.0" fill="#c4cc22" />
<circle cx="303.1" cy="1163.5" r="5" fill="#d4dc2c"/>
<polygon points="282.8,1186.0 333.5,1175.0 343.7,1209.0 293.0,1220.0" fill="#c4cc22" />
<circle cx="313.2" cy="1197.5" r="5" fill="#d4dc2c"/>
<polygon points="293.0,1220.0 343.7,1209.0 353.9,1243.0 303.2,1254.0" fill="#c4cc22" />
<circle cx="323.4" cy="1231.5" r="5" fill="#d4dc2c"/>
<polygon points="303.2,1254.0 353.9,1243.0 364.1,1277.0 313.4,1288.0" fill="#b2b2b2" />
<polygon points="353.9,1243.0 364.1,1277.0 313.4,1288.0" fill="#000" fill-opacity="0.10"/>
<polygon points="313.4,1288.0 364.1,1277.0 374.3,1311.0 323.6,1322.0" fill="#b2b2b2" />
<polygon points="364.1,1277.0 374.3,1311.0 323.6,1322.0" fill="#000" fill-opacity="0.10"/>
<polygon points="329.6,1317.0 368.3,1306.0 368.3,1312.0 329.6,1323.0" fill="#ffffff" />
<polygon points="323.6,1322.0 374.3,1311.0 384.5,1345.0 333.8,1356.0" fill="#b2b2b2" />
<polygon points="374.3,1311.0 384.5,1345.0 333.8,1356.0" fill="#000" fill-opacity="0.10"/>
<polygon points="333.8,1356.0 384.5,1345.0 394.7,1379.0 344.0,1390.0" fill="#b2b2b2" />
<polygon points="384.5,1345.0 394.7,1379.0 344.0,1390.0" fill="#000" fill-opacity="0.10"/>
<polygon points="350.0,1385.0 388.7,1374.0 388.7,1380.0 350.0,1391.0" fill="#ffffff" />
<polygon points="344.0,1390.0 394.7,1379.0 404.9,1413.0 354.2,1424.0" fill="#b2b2b2" />
<polygon points="394.7,1379.0 404.9,1413.0 354.2,1424.0" fill="#000" fill-opacity="0.10"/>
<polygon points="354.2,1424.0 404.9,1413.0 415.1,1447.0 364.4,1458.0" fill="#b2b2b2" />
<polygon points="404.9,1413.0 415.1,1447.0 364.4,1458.0" fill="#000" fill-opacity="0.10"/>
<polygon points="370.4,1453.0 409.1,1442.0 409.1,1448.0 370.4,1459.0" fill="#ffffff" />
<polygon points="364.4,1458.0 415.1,1447.0 425.3,1481.0 374.6,1492.0" fill="#b2b2b2" />
<polygon points="415.1,1447.0 425.3,1481.0 374.6,1492.0" fill="#000" fill-opacity="0.10"/>
<polygon points="374.6,1492.0 425.3,1481.0 435.5,1515.0 384.8,1526.0" fill="#b2b2b2" />
<polygon points="425.3,1481.0 435.5,1515.0 384.8,1526.0" fill="#000" fill-opacity="0.10"/>
<polygon points="390.8,1521.0 429.5,1510.0 429.5,1516.0 390.8,1527.0" fill="#ffffff" />
<polygon points="273.8,976.0 324.5,965.0 334.7,999.0 284.0,1010.0" fill="#b2b2b2" />
<polygon points="324.5,965.0 334.7,999.0 284.0,1010.0" fill="#000" fill-opacity="0.10"/>
<polygon points="290.0,1005.0 328.7,994.0 328.7,1000.0 290.0,1011.0" fill="#ffffff" />
<polygon points="284.0,1010.0 334.7,999.0 344.9,1033.0 294.2,1044.0" fill="#b2b2b2" />
<polygon points="334.7,999.0 344.9,1033.0 294.2,1044.0" fill="#000" fill-opacity="0.10"/>
<polygon points="294.2,1044.0 344.9,1033.0 355.1,1067.0 304.4,1078.0" fill="#b2b2b2" />
<polygon points="344.9,1033.0 355.1,1067.0 304.4,1078.0" fill="#000" fill-opacity="0.10"/>
<polygon points="310.4,1073.0 349.1,1062.0 349.1,1068.0 310.4,1079.0" fill="#ffffff" />
<polygon points="304.4,1078.0 355.1,1067.0 365.3,1101.0 314.6,1112.0" fill="#b2b2b2" />
<polygon points="355.1,1067.0 365.3,1101.0 314.6,1112.0" fill="#000" fill-opacity="0.10"/>
<polygon points="314.6,1112.0 365.3,1101.0 375.5,1135.0 324.8,1146.0" fill="#b2b2b2" />
<polygon points="365.3,1101.0 375.5,1135.0 324.8,1146.0" fill="#000" fill-opacity="0.10"/>
<polygon points="330.8,1141.0 369.5,1130.0 369.5,1136.0 330.8,1147.0" fill="#ffffff" />
<polygon points="324.8,1146.0 375.5,1135.0 385.7,1169.0 335.0,1180.0" fill="#b2b2b2" />
<polygon points="375.5,1135.0 385.7,1169.0 335.0,1180.0" fill="#000" fill-opacity="0.10"/>
<polygon points="335.0,1180.0 385.7,1169.0 395.9,1203.0 345.2,1214.0" fill="#b2b2b2" />
<polygon points="385.7,1169.0 395.9,1203.0 345.2,1214.0" fill="#000" fill-opacity="0.10"/>
<polygon points="351.2,1209.0 389.9,1198.0 389.9,1204.0 351.2,1215.0" fill="#ffffff" />
<polygon points="345.2,1214.0 395.9,1203.0 406.1,1237.0 355.4,1248.0" fill="#b2b2b2" />
<polygon points="395.9,1203.0 406.1,1237.0 355.4,1248.0" fill="#000" fill-opacity="0.10"/>
<polygon points="355.4,1248.0 406.1,1237.0 416.3,1271.0 365.6,1282.0" fill="#b2b2b2" />
<polygon points="406.1,1237.0 416.3,1271.0 365.6,1282.0" fill="#000" fill-opacity="0.10"/>
<polygon points="371.6,1277.0 410.3,1266.0 410.3,1272.0 371.6,1283.0" fill="#ffffff" />
<polygon points="365.6,1282.0 416.3,1271.0 426.5,1305.0 375.8,1316.0" fill="#b2b2b2" />
<polygon points="416.3,1271.0 426.5,1305.0 375.8,1316.0" fill="#000" fill-opacity="0.10"/>
<polygon points="375.8,1316.0 426.5,1305.0 436.7,1339.0 386.0,1350.0" fill="#b2b2b2" />
<polygon points="426.5,1305.0 436.7,1339.0 386.0,1350.0" fill="#000" fill-opacity="0.10"/>
<polygon points="392.0,1345.0 430.7,1334.0 430.7,1340.0 392.0,1351.0" fill="#ffffff" />
<polygon points="386.0,1350.0 436.7,1339.0 446.9,1373.0 396.2,1384.0" fill="#b2b2b2" />
<polygon points="436.7,1339.0 446.9,1373.0 396.2,1384.0" fill="#000" fill-opacity="0.10"/>
<polygon points="396.2,1384.0 446.9,1373.0 457.1,1407.0 406.4,1418.0" fill="#b2b2b2" />
<polygon points="446.9,1373.0 457.1,1407.0 406.4,1418.0" fill="#000" fill-opacity="0.10"/>
<polygon points="412.4,1413.0 451.1,1402.0 451.1,1408.0 412.4,1419.0" fill="#ffffff" />
<polygon points="406.4,1418.0 457.1,1407.0 467.3,1441.0 416.6,1452.0" fill="#b2b2b2" />
<polygon points="457.1,1407.0 467.3,1441.0 416.6,1452.0" fill="#000" fill-opacity="0.10"/>
<polygon points="416.6,1452.0 467.3,1441.0 477.5,1475.0 426.8,1486.0" fill="#b2b2b2" />
<polygon points="467.3,1441.0 477.5,1475.0 426.8,1486.0" fill="#000" fill-opacity="0.10"/>
<polygon points="432.8,1481.0 471.5,1470.0 471.5,1476.0 432.8,1487.0" fill="#ffffff" />
<polygon points="426.8,1486.0 477.5,1475.0 487.7,1509.0 437.0,1520.0" fill="#b2b2b2" />
<polygon points="477.5,1475.0 487.7,1509.0 437.0,1520.0" fill="#000" fill-opacity="0.10"/>
<polygon points="336.2,1004.0 386.9,993.0 397.1,1027.0 346.4,1038.0" fill="#b2b2b2" />
<polygon points="386.9,993.0 397.1,1027.0 346.4,1038.0" fill="#000" fill-opacity="0.10"/>
<polygon points="346.4,1038.0 397.1,1027.0 407.3,1061.0 356.6,1072.0" fill="#b2b2b2" />
<polygon points="397.1,1027.0 407.3,1061.0 356.6,1072.0" fill="#000" fill-opacity="0.10"/>
<polygon points="362.6,1067.0 401.3,1056.0 401.3,1062.0 362.6,1073.0" fill="#ffffff" />
<polygon points="356.6,1072.0 407.3,1061.0 417.5,1095.0 366.8,1106.0" fill="#b2b2b2" />
<polygon points="407.3,1061.0 417.5,1095.0 366.8,1106.0" fill="#000" fill-opacity="0.10"/>
<polygon points="366.8,1106.0 417.5,1095.0 427.7,1129.0 377.0,1140.0" fill="#b2b2b2" />
<polygon points="417.5,1095.0 427.7,1129.0 377.0,1140.0" fill="#000" fill-opacity="0.10"/>
<polygon points="383.0,1135.0 421.7,1124.0 421.7,1130.0 383.0,1141.0" fill="#ffffff" />
<polygon points="377.0,1140.0 427.7,1129.0 437.9,1163.0 387.2,1174.0" fill="#b2b2b2" />
<polygon points="427.7,1129.0 437.9,1163.0 387.2,1174.0" fill="#000" fill-opacity="0.10"/>
<polygon points="387.2,1174.0 437.9,1163.0 448.1,1197.0 397.4,1208.0" fill="#b2b2b2" />
<polygon points="437.9,1163.0 448.1,1197.0 397.4,1208.0" fill="#000" fill-opacity="0.10"/>
<polygon points="403.4,1203.0 442.1,1192.0 442.1,1198.0 403.4,1209.0" fill="#ffffff" />
<polygon points="397.4,1208.0 448.1,1197.0 458.3,1231.0 407.6,1242.0" fill="#b2b2b2" />
<polygon points="448.1,1197.0 458.3,1231.0 407.6,1242.0" fill="#000" fill-opacity="0.10"/>
<polygon points="407.6,1242.0 458.3,1231.0 468.5,1265.0 417.8,1276.0" fill="#b2b2b2" />
<polygon points="458.3,1231.0 468.5,1265.0 417.8,1276.0" fill="#000" fill-opacity="0.10"/>
<polygon points="423.8,1271.0 462.5,1260.0 462.5,1266.0 423.8,1277.0" fill="#ffffff" />
<polygon points="417.8,1276.0 468.5,1265.0 478.7,1299.0 428.0,1310.0" fill="#b2b2b2" />
<polygon points="468.5,1265.0 478.7,1299.0 428.0,1310.0" fill="#000" fill-opacity="0.10"/>
<polygon points="428.0,1310.0 478.7,1299.0 488.9,1333.0 438.2,1344.0" fill="#b2b2b2" />
<polygon points="478.7,1299.0 488.9,1333.0 438.2,1344.0" fill="#000" fill-opacity="0.10"/>
<polygon points="444.2,1339.0 482.9,1328.0 482.9,1334.0 444.2,1345.0" fill="#ffffff" />
<polygon points="438.2,1344.0 488.9,1333.0 499.1,1367.0 448.4,1378.0" fill="#b2b2b2" />
<polygon points="488.9,1333.0 499.1,1367.0 448.4,1378.0" fill="#000" fill-opacity="0.10"/>
<polygon points="448.4,1378.0 499.1,1367.0 509.3,1401.0 458.6,1412.0" fill="#b2b2b2" />
<polygon points="499.1,1367.0 509.3,1401.0 458.6,1412.0" fill="#000" fill-opacity="0.10"/>
<polygon points="464.6,1407.0 503.3,1396.0 503.3,1402.0 464.6,1413.0" fill="#ffffff" />
<polygon points="458.6,1412.0 509.3,1401.0 519.5,1435.0 468.8,1446.0" fill="#b2b2b2" />
<polygon points="509.3,1401.0 519.5,1435.0 468.8,1446.0" fill="#000" fill-opacity="0.10"/>
<polygon points="468.8,1446.0 519.5,1435.0 529.7,1469.0 479.0,1480.0" fill="#b2b2b2" />
<polygon points="519.5,1435.0 529.7,1469.0 479.0,1480.0" fill="#000" fill-opacity="0.10"/>
<polygon points="485.0,1475.0 523.7,1464.0 523.7,1470.0 485.0,1481.0" fill="#ffffff" />
<polygon points="479.0,1480.0 529.7,1469.0 539.9,1503.0 489.2,1514.0" fill="#b2b2b2" />
<polygon points="529.7,1469.0 539.9,1503.0 489.2,1514.0" fill="#000" fill-opacity="0.10"/>
<polygon points="489.2,1514.0 539.9,1503.0 550.1,1537.0 499.4,1548.0" fill="#b2b2b2" />
<polygon points="539.9,1503.0 550.1,1537.0 499.4,1548.0" fill="#000" fill-opacity="0.10"/>
<polygon points="505.4,1543.0 544.1,1532.0 544.1,1538.0 505.4,1549.0" fill="#ffffff" />
<polygon points="388.4,998.0 439.1,987.0 449.3,1021.0 398.6,1032.0" fill="#b2b2b2" />
<polygon points="439.1,987.0 449.3,1021.0 398.6,1032.0" fill="#000" fill-opacity="0.10"/>
<polygon points="404.6,1027.0 443.3,1016.0 443.3,1022.0 404.6,1033.0" fill="#ffffff" />
<polygon points="398.6,1032.0 449.3,1021.0 459.5,1055.0 408.8,1066.0" fill="#b2b2b2" />
<polygon points="449.3,1021.0 459.5,1055.0 408.8,1066.0" fill="#000" fill-opacity="0.10"/>
<polygon points="408.8,1066.0 459.5,1055.0 469.7,1089.0 419.0,1100.0" fill="#b2b2b2" />
<polygon points="459.5,1055.0 469.7,1089.0 419.0,1100.0" fill="#000" fill-opacity="0.10"/>
<polygon points="425.0,1095.0 463.7,1084.0 463.7,1090.0 425.0,1101.0" fill="#ffffff" />
<polygon points="419.0,1100.0 469.7,1089.0 479.9,1123.0 429.2,1134.0" fill="#b2b2b2" />
<polygon points="469.7,1089.0 479.9,1123.0 429.2,1134.0" fill="#000" fill-opacity="0.10"/>
<polygon points="429.2,1134.0 479.9,1123.0 490.1,1157.0 439.4,1168.0" fill="#b2b2b2" />
<polygon points="479.9,1123.0 490.1,1157.0 439.4,1168.0" fill="#000" fill-opacity="0.10"/>
<polygon points="445.4,1163.0 484.1,1152.0 484.1,1158.0 445.4,1169.0" fill="#ffffff" />
<polygon points="439.4,1168.0 490.1,1157.0 500.3,1191.0 449.6,1202.0" fill="#b2b2b2" />
<polygon points="490.1,1157.0 500.3,1191.0 449.6,1202.0" fill="#000" fill-opacity="0.10"/>
<polygon points="449.6,1202.0 500.3,1191.0 510.5,1225.0 459.8,1236.0" fill="#b2b2b2" />
<polygon points="500.3,1191.0 510.5,1225.0 459.8,1236.0" fill="#000" fill-opacity="0.10"/>
<polygon points="465.8,1231.0 504.5,1220.0 504.5,1226.0 465.8,1237.0" fill="#ffffff" />
<polygon points="459.8,1236.0 510.5,1225.0 520.7,1259.0 470.0,1270.0" fill="#b2b2b2" />
<polygon points="510.5,1225.0 520.7,1259.0 470.0,1270.0" fill="#000" fill-opacity="0.10"/>
<polygon points="470.0,1270.0 520.7,1259.0 530.9,1293.0 480.2,1304.0" fill="#b2b2b2" />
<polygon points="520.7,1259.0 530.9,1293.0 480.2,1304.0" fill="#000" fill-opacity="0.10"/>
<polygon points="486.2,1299.0 524.9,1288.0 524.9,1294.0 486.2,1305.0" fill="#ffffff" />
<polygon points="480.2,1304.0 530.9,1293.0 541.1,1327.0 490.4,1338.0" fill="#b2b2b2" />
<polygon points="530.9,1293.0 541.1,1327.0 490.4,1338.0" fill="#000" fill-opacity="0.10"/>
<polygon points="490.4,1338.0 541.1,1327.0 551.3,1361.0 500.6,1372.0" fill="#b2b2b2" />
<polygon points="541.1,1327.0 551.3,1361.0 500.6,1372.0" fill="#000" fill-opacity="0.10"/>
<polygon points="506.6,1367.0 545.3,1356.0 545.3,1362.0 506.6,1373.0" fill="#ffffff" />
<polygon points="500.6,1372.0 551.3,1361.0 561.5,1395.0 510.8,1406.0" fill="#b2b2b2" />
<polygon points="551.3,1361.0 561.5,1395.0 510.8,1406.0" fill="#000" fill-opacity="0.10"/>
<polygon points="510.8,1406.0 561.5,1395.0 571.7,1429.0 521.0,1440.0" fill="#b2b2b2" />
<polygon points="561.5,1395.0 571.7,1429.0 521.0,1440.0" fill="#000" fill-opacity="0.10"/>
<polygon points="527.0,1435.0 565.7,1424.0 565.7,1430.0 527.0,1441.0" fill="#ffffff" />
<polygon points="521.0,1440.0 571.7,1429.0 581.9,1463.0 531.2,1474.0" fill="#b2b2b2" />
<polygon points="571.7,1429.0 581.9,1463.0 531.2,1474.0" fill="#000" fill-opacity="0.10"/>
<polygon points="531.2,1474.0 581.9,1463.0 592.1,1497.0 541.4,1508.0" fill="#b2b2b2" />
<polygon points="581.9,1463.0 592.1,1497.0 541.4,1508.0" fill="#000" fill-opacity="0.10"/>
<polygon points="547.4,1503.0 586.1,1492.0 586.1,1498.0 547.4,1509.0" fill="#ffffff" />
<polygon points="541.4,1508.0 592.1,1497.0 602.3,1531.0 551.6,1542.0" fill="#b2b2b2" />
<polygon points="592.1,1497.0 602.3,1531.0 551.6,1542.0" fill="#000" fill-opacity="0.10"/>
</g>
<circle cx="9.5" cy="1165.0" r="8.3" fill="url(#gO)"/>
<circle cx="19.7" cy="1199.0" r="8.3" fill="url(#gO)"/>
<circle cx="18.8" cy="1216.0" r="8.3" fill="url(#gO)"/>
<circle cx="29.9" cy="1233.0" r="8.3" fill="url(#gO)"/>
<circle cx="29.0" cy="1250.0" r="8.3" fill="url(#gO)"/>
<circle cx="40.1" cy="1267.0" r="8.3" fill="url(#gO)"/>
<circle cx="39.2" cy="1284.0" r="8.3" fill="url(#gO)"/>
<circle cx="50.3" cy="1301.0" r="8.3" fill="url(#gO)"/>
<circle cx="49.4" cy="1318.0" r="8.3" fill="url(#gO)"/>
<circle cx="47.3" cy="1131.0" r="8.3" fill="url(#gO)"/>
<circle cx="58.4" cy="1148.0" r="8.3" fill="url(#gO)"/>
<circle cx="68.6" cy="1182.0" r="8.3" fill="url(#gO)"/>
<circle cx="67.7" cy="1199.0" r="8.3" fill="url(#gO)"/>
<circle cx="78.8" cy="1216.0" r="8.3" fill="url(#gO)"/>
<circle cx="77.9" cy="1233.0" r="8.3" fill="url(#gO)"/>
<circle cx="89.0" cy="1250.0" r="8.3" fill="url(#gO)"/>
<circle cx="88.1" cy="1267.0" r="8.3" fill="url(#gO)"/>
<circle cx="99.2" cy="1284.0" r="8.3" fill="url(#gO)"/>
<circle cx="98.3" cy="1301.0" r="8.3" fill="url(#gO)"/>
<circle cx="108.5" cy="1335.0" r="8.3" fill="url(#gO)"/>
<circle cx="83.3" cy="1051.0" r="8.3" fill="url(#gO)"/>
<circle cx="82.4" cy="1068.0" r="8.3" fill="url(#gO)"/>
<circle cx="93.5" cy="1085.0" r="8.3" fill="url(#gO)"/>
<circle cx="92.6" cy="1102.0" r="8.3" fill="url(#gO)"/>
<circle cx="103.7" cy="1119.0" r="8.3" fill="url(#gO)"/>
<circle cx="113.9" cy="1153.0" r="8.3" fill="url(#gO)"/>
<circle cx="113.0" cy="1170.0" r="8.3" fill="url(#gO)"/>
<circle cx="124.1" cy="1187.0" r="8.3" fill="url(#gO)"/>
<circle cx="123.2" cy="1204.0" r="8.3" fill="url(#gO)"/>
<circle cx="134.3" cy="1221.0" r="8.3" fill="url(#gO)"/>
<circle cx="133.4" cy="1238.0" r="8.3" fill="url(#gO)"/>
<circle cx="144.5" cy="1255.0" r="8.3" fill="url(#gO)"/>
<circle cx="143.6" cy="1272.0" r="8.3" fill="url(#gO)"/>
<circle cx="153.8" cy="1306.0" r="8.3" fill="url(#gO)"/>
<circle cx="164.9" cy="1323.0" r="8.3" fill="url(#gO)"/>
<circle cx="164.0" cy="1340.0" r="8.3" fill="url(#gO)"/>
<circle cx="175.1" cy="1357.0" r="8.3" fill="url(#gO)"/>
<circle cx="132.2" cy="1034.0" r="8.3" fill="url(#gO)"/>
<circle cx="131.3" cy="1051.0" r="8.3" fill="url(#gO)"/>
<circle cx="142.4" cy="1068.0" r="8.3" fill="url(#gO)"/>
<circle cx="141.5" cy="1085.0" r="8.3" fill="url(#gO)"/>
<circle cx="152.6" cy="1102.0" r="8.3" fill="url(#gO)"/>
<circle cx="162.8" cy="1136.0" r="8.3" fill="url(#gO)"/>
<circle cx="161.9" cy="1153.0" r="8.3" fill="url(#gO)"/>
<circle cx="173.0" cy="1170.0" r="8.3" fill="url(#gO)"/>
<circle cx="172.1" cy="1187.0" r="8.3" fill="url(#gO)"/>
<circle cx="183.2" cy="1204.0" r="8.3" fill="url(#gO)"/>
<circle cx="182.3" cy="1221.0" r="8.3" fill="url(#gO)"/>
<circle cx="193.4" cy="1238.0" r="8.3" fill="url(#gO)"/>
<circle cx="192.5" cy="1255.0" r="8.3" fill="url(#gO)"/>
<circle cx="202.7" cy="1289.0" r="8.3" fill="url(#gO)"/>
<circle cx="213.8" cy="1306.0" r="8.3" fill="url(#gO)"/>
<circle cx="212.9" cy="1323.0" r="8.3" fill="url(#gO)"/>
<circle cx="224.0" cy="1340.0" r="8.3" fill="url(#gO)"/>
<circle cx="223.1" cy="1357.0" r="8.3" fill="url(#gO)"/>
<circle cx="234.2" cy="1374.0" r="8.3" fill="url(#gO)"/>
<circle cx="176.6" cy="1022.0" r="8.3" fill="url(#gO)"/>
<circle cx="187.7" cy="1039.0" r="8.3" fill="url(#gO)"/>
<circle cx="186.8" cy="1056.0" r="8.3" fill="url(#gO)"/>
<circle cx="197.9" cy="1073.0" r="8.3" fill="url(#gO)"/>
<circle cx="208.1" cy="1107.0" r="8.3" fill="url(#gO)"/>
<circle cx="207.2" cy="1124.0" r="8.3" fill="url(#gO)"/>
<circle cx="218.3" cy="1141.0" r="8.3" fill="url(#gO)"/>
<circle cx="217.4" cy="1158.0" r="8.3" fill="url(#gO)"/>
<circle cx="228.5" cy="1175.0" r="8.3" fill="url(#gO)"/>
<circle cx="227.6" cy="1192.0" r="8.3" fill="url(#gO)"/>
<circle cx="238.7" cy="1209.0" r="8.3" fill="url(#gO)"/>
<circle cx="237.8" cy="1226.0" r="8.3" fill="url(#gO)"/>
<circle cx="248.0" cy="1260.0" r="8.3" fill="url(#gO)"/>
<circle cx="259.1" cy="1277.0" r="8.3" fill="url(#gO)"/>
<circle cx="258.2" cy="1294.0" r="8.3" fill="url(#gO)"/>
<circle cx="269.3" cy="1311.0" r="8.3" fill="url(#gO)"/>
<circle cx="268.4" cy="1328.0" r="8.3" fill="url(#gO)"/>
<circle cx="279.5" cy="1345.0" r="8.3" fill="url(#gO)"/>
<circle cx="278.6" cy="1362.0" r="8.3" fill="url(#gO)"/>
<circle cx="289.7" cy="1379.0" r="8.3" fill="url(#gO)"/>
<circle cx="235.7" cy="1039.0" r="8.3" fill="url(#gO)"/>
<circle cx="246.8" cy="1056.0" r="8.3" fill="url(#gO)"/>
<circle cx="257.0" cy="1090.0" r="8.3" fill="url(#gO)"/>
<circle cx="256.1" cy="1107.0" r="8.3" fill="url(#gO)"/>
<circle cx="267.2" cy="1124.0" r="8.3" fill="url(#gO)"/>
<circle cx="266.3" cy="1141.0" r="8.3" fill="url(#gO)"/>
<circle cx="277.4" cy="1158.0" r="8.3" fill="url(#gO)"/>
<circle cx="276.5" cy="1175.0" r="8.3" fill="url(#gO)"/>
<circle cx="287.6" cy="1192.0" r="8.3" fill="url(#gO)"/>
<circle cx="286.7" cy="1209.0" r="8.3" fill="url(#gO)"/>
<circle cx="296.9" cy="1243.0" r="8.3" fill="url(#gO)"/>
<circle cx="308.0" cy="1260.0" r="8.3" fill="url(#gO)"/>
<circle cx="307.1" cy="1277.0" r="8.3" fill="url(#gO)"/>
<circle cx="318.2" cy="1294.0" r="8.3" fill="url(#gO)"/>
<circle cx="317.3" cy="1311.0" r="8.3" fill="url(#gO)"/>
<circle cx="328.4" cy="1328.0" r="8.3" fill="url(#gO)"/>
<circle cx="327.5" cy="1345.0" r="8.3" fill="url(#gO)"/>
<circle cx="338.6" cy="1362.0" r="8.3" fill="url(#gO)"/>
<circle cx="302.3" cy="1061.0" r="8.3" fill="url(#gO)"/>
<circle cx="301.4" cy="1078.0" r="8.3" fill="url(#gO)"/>
<circle cx="312.5" cy="1095.0" r="8.3" fill="url(#gO)"/>
<circle cx="311.6" cy="1112.0" r="8.3" fill="url(#gO)"/>
<circle cx="322.7" cy="1129.0" r="8.3" fill="url(#gO)"/>
<circle cx="321.8" cy="1146.0" r="8.3" fill="url(#gO)"/>
<circle cx="332.9" cy="1163.0" r="8.3" fill="url(#gO)"/>
<circle cx="332.0" cy="1180.0" r="8.3" fill="url(#gO)"/>
<circle cx="342.2" cy="1214.0" r="8.3" fill="url(#gO)"/>
<circle cx="353.3" cy="1231.0" r="8.3" fill="url(#gO)"/>
<circle cx="352.4" cy="1248.0" r="8.3" fill="url(#gO)"/>
<circle cx="350.3" cy="1061.0" r="8.3" fill="url(#gO)"/>
<circle cx="360.5" cy="1095.0" r="8.3" fill="url(#gO)"/>
<circle cx="370.7" cy="1129.0" r="8.3" fill="url(#gO)"/>
<circle cx="380.9" cy="1163.0" r="8.3" fill="url(#gO)"/>
<circle cx="391.1" cy="1197.0" r="8.3" fill="url(#gO)"/>
<circle cx="402.2" cy="1214.0" r="8.3" fill="url(#gO)"/>
<circle cx="401.3" cy="1231.0" r="8.3" fill="url(#gO)"/>
<line x1="575.4" y1="1165.0" x2="584.2" y2="1142.2" stroke="#7a7a7a" stroke-width="2.2"/>
<line x1="575.4" y1="1165.0" x2="547.6" y2="1161.2" stroke="#7a7a7a" stroke-width="2.2"/>
<line x1="575.4" y1="1165.0" x2="596.8" y2="1175.1" stroke="#7a7a7a" stroke-width="2.2"/>
<line x1="575.4" y1="1165.0" x2="569.1" y2="1191.5" stroke="#7a7a7a" stroke-width="2.2"/>
<circle cx="575.4" cy="1165.0" r="3.0" fill="#808080"/>
<circle cx="584.2" cy="1142.2" r="7.6" fill="url(#gO)"/>
<circle cx="547.6" cy="1161.2" r="7.6" fill="url(#gO)"/>
<circle cx="596.8" cy="1175.1" r="7.6" fill="url(#gO)"/>
<circle cx="569.1" cy="1191.5" r="7.6" fill="url(#gO)"/>
<line x1="689.0" y1="1171.3" x2="696.5" y2="1146.0" stroke="#7a7a7a" stroke-width="2.2"/>
<line x1="689.0" y1="1171.3" x2="661.2" y2="1166.2" stroke="#7a7a7a" stroke-width="2.2"/>
<line x1="689.0" y1="1171.3" x2="710.4" y2="1178.9" stroke="#7a7a7a" stroke-width="2.2"/>
<line x1="689.0" y1="1171.3" x2="683.9" y2="1195.3" stroke="#7a7a7a" stroke-width="2.2"/>
<circle cx="689.0" cy="1171.3" r="3.0" fill="#808080"/>
<circle cx="696.5" cy="1146.0" r="7.6" fill="url(#gO)"/>
<circle cx="661.2" cy="1166.2" r="7.6" fill="url(#gO)"/>
<circle cx="710.4" cy="1178.9" r="7.6" fill="url(#gO)"/>
<circle cx="683.9" cy="1195.3" r="7.6" fill="url(#gO)"/>
<line x1="792.5" y1="1167.5" x2="800.1" y2="1141.0" stroke="#7a7a7a" stroke-width="2.2"/>
<line x1="792.5" y1="1167.5" x2="764.7" y2="1161.2" stroke="#7a7a7a" stroke-width="2.2"/>
<line x1="792.5" y1="1167.5" x2="813.9" y2="1175.1" stroke="#7a7a7a" stroke-width="2.2"/>
<line x1="792.5" y1="1167.5" x2="787.4" y2="1191.5" stroke="#7a7a7a" stroke-width="2.2"/>
<circle cx="792.5" cy="1167.5" r="3.0" fill="#808080"/>
<circle cx="800.1" cy="1141.0" r="7.6" fill="url(#gO)"/>
<circle cx="764.7" cy="1161.2" r="7.6" fill="url(#gO)"/>
<circle cx="813.9" cy="1175.1" r="7.6" fill="url(#gO)"/>
<circle cx="787.4" cy="1191.5" r="7.6" fill="url(#gO)"/>
<line x1="624.6" y1="1219.2" x2="632.2" y2="1194.0" stroke="#7a7a7a" stroke-width="2.2"/>
<line x1="624.6" y1="1219.2" x2="596.8" y2="1214.2" stroke="#7a7a7a" stroke-width="2.2"/>
<line x1="624.6" y1="1219.2" x2="644.8" y2="1226.8" stroke="#7a7a7a" stroke-width="2.2"/>
<line x1="624.6" y1="1219.2" x2="618.3" y2="1243.2" stroke="#7a7a7a" stroke-width="2.2"/>
<circle cx="624.6" cy="1219.2" r="3.0" fill="#808080"/>
<circle cx="632.2" cy="1194.0" r="7.6" fill="url(#gO)"/>
<circle cx="596.8" cy="1214.2" r="7.6" fill="url(#gO)"/>
<circle cx="644.8" cy="1226.8" r="7.6" fill="url(#gO)"/>
<circle cx="618.3" cy="1243.2" r="7.6" fill="url(#gO)"/>
<line x1="753.3" y1="1214.2" x2="762.2" y2="1189.0" stroke="#7a7a7a" stroke-width="2.2"/>
<line x1="753.3" y1="1214.2" x2="726.8" y2="1207.9" stroke="#7a7a7a" stroke-width="2.2"/>
<line x1="753.3" y1="1214.2" x2="776.1" y2="1221.8" stroke="#7a7a7a" stroke-width="2.2"/>
<line x1="753.3" y1="1214.2" x2="749.6" y2="1238.2" stroke="#7a7a7a" stroke-width="2.2"/>
<circle cx="753.3" cy="1214.2" r="3.0" fill="#808080"/>
<circle cx="762.2" cy="1189.0" r="7.6" fill="url(#gO)"/>
<circle cx="726.8" cy="1207.9" r="7.6" fill="url(#gO)"/>
<circle cx="776.1" cy="1221.8" r="7.6" fill="url(#gO)"/>
<circle cx="749.6" cy="1238.2" r="7.6" fill="url(#gO)"/>
<line x1="694.0" y1="1248.3" x2="702.9" y2="1223.0" stroke="#7a7a7a" stroke-width="2.2"/>
<line x1="694.0" y1="1248.3" x2="666.2" y2="1243.2" stroke="#7a7a7a" stroke-width="2.2"/>
<line x1="694.0" y1="1248.3" x2="715.5" y2="1255.9" stroke="#7a7a7a" stroke-width="2.2"/>
<line x1="694.0" y1="1248.3" x2="689.0" y2="1273.5" stroke="#7a7a7a" stroke-width="2.2"/>
<circle cx="694.0" cy="1248.3" r="3.0" fill="#808080"/>
<circle cx="702.9" cy="1223.0" r="7.6" fill="url(#gO)"/>
<circle cx="666.2" cy="1243.2" r="7.6" fill="url(#gO)"/>
<circle cx="715.5" cy="1255.9" r="7.6" fill="url(#gO)"/>
<circle cx="689.0" cy="1273.5" r="7.6" fill="url(#gO)"/>
<line x1="821.5" y1="1249.5" x2="829.1" y2="1221.8" stroke="#7a7a7a" stroke-width="2.2"/>
<line x1="821.5" y1="1249.5" x2="793.7" y2="1242.0" stroke="#7a7a7a" stroke-width="2.2"/>
<line x1="821.5" y1="1249.5" x2="843.0" y2="1254.6" stroke="#7a7a7a" stroke-width="2.2"/>
<line x1="821.5" y1="1249.5" x2="816.5" y2="1271.0" stroke="#7a7a7a" stroke-width="2.2"/>
<circle cx="821.5" cy="1249.5" r="3.0" fill="#808080"/>
<circle cx="829.1" cy="1221.8" r="7.6" fill="url(#gO)"/>
<circle cx="793.7" cy="1242.0" r="7.6" fill="url(#gO)"/>
<circle cx="843.0" cy="1254.6" r="7.6" fill="url(#gO)"/>
<circle cx="816.5" cy="1271.0" r="7.6" fill="url(#gO)"/>
<line x1="623.3" y1="1293.7" x2="630.9" y2="1268.5" stroke="#7a7a7a" stroke-width="2.2"/>
<line x1="623.3" y1="1293.7" x2="595.6" y2="1288.7" stroke="#7a7a7a" stroke-width="2.2"/>
<line x1="623.3" y1="1293.7" x2="644.8" y2="1300.0" stroke="#7a7a7a" stroke-width="2.2"/>
<line x1="623.3" y1="1293.7" x2="618.3" y2="1317.7" stroke="#7a7a7a" stroke-width="2.2"/>
<circle cx="623.3" cy="1293.7" r="3.0" fill="#808080"/>
<circle cx="630.9" cy="1268.5" r="7.6" fill="url(#gO)"/>
<circle cx="595.6" cy="1288.7" r="7.6" fill="url(#gO)"/>
<circle cx="644.8" cy="1300.0" r="7.6" fill="url(#gO)"/>
<circle cx="618.3" cy="1317.7" r="7.6" fill="url(#gO)"/>
<line x1="755.9" y1="1303.8" x2="763.4" y2="1277.3" stroke="#7a7a7a" stroke-width="2.2"/>
<line x1="755.9" y1="1303.8" x2="728.1" y2="1297.5" stroke="#7a7a7a" stroke-width="2.2"/>
<line x1="755.9" y1="1303.8" x2="777.3" y2="1310.1" stroke="#7a7a7a" stroke-width="2.2"/>
<line x1="755.9" y1="1303.8" x2="750.8" y2="1326.5" stroke="#7a7a7a" stroke-width="2.2"/>
<circle cx="755.9" cy="1303.8" r="3.0" fill="#808080"/>
<circle cx="763.4" cy="1277.3" r="7.6" fill="url(#gO)"/>
<circle cx="728.1" cy="1297.5" r="7.6" fill="url(#gO)"/>
<circle cx="777.3" cy="1310.1" r="7.6" fill="url(#gO)"/>
<circle cx="750.8" cy="1326.5" r="7.6" fill="url(#gO)"/>
<line x1="824.0" y1="1303.8" x2="831.6" y2="1279.8" stroke="#7a7a7a" stroke-width="2.2"/>
<line x1="824.0" y1="1303.8" x2="796.3" y2="1298.8" stroke="#7a7a7a" stroke-width="2.2"/>
<line x1="824.0" y1="1303.8" x2="845.5" y2="1311.4" stroke="#7a7a7a" stroke-width="2.2"/>
<line x1="824.0" y1="1303.8" x2="819.0" y2="1327.8" stroke="#7a7a7a" stroke-width="2.2"/>
<circle cx="824.0" cy="1303.8" r="3.0" fill="#808080"/>
<circle cx="831.6" cy="1279.8" r="7.6" fill="url(#gO)"/>
<circle cx="796.3" cy="1298.8" r="7.6" fill="url(#gO)"/>
<circle cx="845.5" cy="1311.4" r="7.6" fill="url(#gO)"/>
<circle cx="819.0" cy="1327.8" r="7.6" fill="url(#gO)"/>
<line x1="577.9" y1="1340.4" x2="586.7" y2="1312.7" stroke="#7a7a7a" stroke-width="2.2"/>
<line x1="577.9" y1="1340.4" x2="550.1" y2="1332.9" stroke="#7a7a7a" stroke-width="2.2"/>
<line x1="577.9" y1="1340.4" x2="598.1" y2="1346.7" stroke="#7a7a7a" stroke-width="2.2"/>
<line x1="577.9" y1="1340.4" x2="571.6" y2="1361.9" stroke="#7a7a7a" stroke-width="2.2"/>
<circle cx="577.9" cy="1340.4" r="3.0" fill="#808080"/>
<circle cx="586.7" cy="1312.7" r="7.6" fill="url(#gO)"/>
<circle cx="550.1" cy="1332.9" r="7.6" fill="url(#gO)"/>
<circle cx="598.1" cy="1346.7" r="7.6" fill="url(#gO)"/>
<circle cx="571.6" cy="1361.9" r="7.6" fill="url(#gO)"/>
<line x1="692.8" y1="1340.4" x2="700.3" y2="1313.9" stroke="#7a7a7a" stroke-width="2.2"/>
<line x1="692.8" y1="1340.4" x2="665.0" y2="1334.1" stroke="#7a7a7a" stroke-width="2.2"/>
<line x1="692.8" y1="1340.4" x2="714.2" y2="1346.7" stroke="#7a7a7a" stroke-width="2.2"/>
<line x1="692.8" y1="1340.4" x2="687.7" y2="1361.9" stroke="#7a7a7a" stroke-width="2.2"/>
<circle cx="692.8" cy="1340.4" r="3.0" fill="#808080"/>
<circle cx="700.3" cy="1313.9" r="7.6" fill="url(#gO)"/>
<circle cx="665.0" cy="1334.1" r="7.6" fill="url(#gO)"/>
<circle cx="714.2" cy="1346.7" r="7.6" fill="url(#gO)"/>
<circle cx="687.7" cy="1361.9" r="7.6" fill="url(#gO)"/>
<circle cx="617.0" cy="1156.1" r="8.8" fill="url(#gY)"/>
<circle cx="731.9" cy="1151.1" r="8.8" fill="url(#gY)"/>
<circle cx="829.1" cy="1158.7" r="8.8" fill="url(#gY)"/>
<circle cx="657.4" cy="1204.1" r="8.8" fill="url(#gY)"/>
<circle cx="810.2" cy="1214.2" r="8.8" fill="url(#gY)"/>
<circle cx="595.6" cy="1257.1" r="8.8" fill="url(#gY)"/>
<circle cx="767.2" cy="1252.1" r="8.8" fill="url(#gY)"/>
<circle cx="672.6" cy="1302.6" r="8.8" fill="url(#gY)"/>
<circle cx="628.4" cy="1353.1" r="8.8" fill="url(#gY)"/>
<circle cx="748.3" cy="1351.8" r="8.8" fill="url(#gY)"/>
<circle cx="811.4" cy="1353.1" r="8.8" fill="url(#gY)"/>
<g stroke="#777" stroke-width="2.2"><line x1="540.0" y1="1106.9" x2="540.0" y2="1082.9"/><line x1="540.0" y1="1106.9" x2="510.0" y2="1124.9"/><line x1="540.0" y1="1106.9" x2="562.0" y2="1119.9"/><line x1="540.0" y1="1106.9" x2="553.0" y2="1132.9"/></g>
<circle cx="540.0" cy="1106.9" r="3.5" fill="#888"/>
<circle cx="652.4" cy="1106.9" r="14.0" fill="url(#gNa)"/>
<circle cx="762.2" cy="1105.6" r="14.5" fill="url(#gO)"/>
<rect x="925" y="1072" width="362" height="320" fill="#fbfbfb"/>
<polygon points="998.5,1115.8 1051.5,1115.8 1056.6,1214.2 1001.0,1214.2" fill="#40d4dc" />
<polygon points="1122.2,1110.7 1175.3,1115.8 1177.8,1156.2 1142.4,1158.7" fill="#40d4dc" />
<polygon points="1203.0,1148.6 1258.6,1158.7 1263.6,1189.0 1218.2,1201.6" fill="#40d4dc" />
<polygon points="942.9,1317.8 1001.0,1317.8 1003.5,1368.3 940.4,1368.3" fill="#40d4dc" />
<polygon points="1021.2,1312.7 1086.9,1312.7 1091.9,1368.3 1056.6,1368.3 1021.2,1355.7" fill="#40d4dc" />
<polygon points="1150.0,1295.1 1200.5,1295.1 1200.5,1345.6 1150.0,1348.1" fill="#40d4dc" />
<polygon points="1051.5,1105.7 1122.2,1100.6 1142.4,1161.2 1122.2,1211.7 1056.6,1214.2 1041.4,1158.7" fill="#36dc48" fill-opacity="0.88"/>
<polygon points="1142.4,1151.1 1203.0,1151.1 1218.2,1196.6 1198.0,1242.0 1142.4,1247.1 1127.3,1196.6" fill="#36dc48" fill-opacity="0.88"/>
<polygon points="996.0,1214.2 1071.7,1214.2 1086.9,1262.2 1071.7,1312.7 1001.0,1312.7 983.3,1262.2" fill="#36dc48" fill-opacity="0.88"/>
<polygon points="1086.9,1252.1 1142.4,1252.1 1155.1,1302.6 1142.4,1355.7 1091.9,1355.7 1076.8,1302.6" fill="#36dc48" fill-opacity="0.88"/>
<polygon points="1119.7,1206.7 1142.4,1211.7 1143.7,1249.6 1124.7,1250.9" fill="#36dc48" fill-opacity="0.88"/>
<polygon points="1061.6,1257.2 1107.1,1257.2 1117.2,1312.7 1064.1,1312.7" fill="#40d4dc" fill-opacity="0.8"/>
<polygon points="1006.1,1123.3 1051.5,1123.3 1054.0,1206.7 1008.6,1206.7" fill="#40d4dc" fill-opacity="0.55"/>
<polygon points="1076.8,1214.2 1122.2,1211.7 1124.7,1249.6 1091.9,1254.6" fill="#eaa6cc" />
<polygon points="1190.4,1089.2 1258.6,1089.2 1253.5,1146.1 1198.0,1146.1" fill="#a22a2e" />
<polygon points="935.4,1267.3 998.5,1262.2 1001.0,1315.3 942.9,1315.3" fill="#a22a2e" />
<polygon points="1142.4,1247.1 1190.4,1247.1 1196.7,1290.0 1161.4,1300.1 1142.4,1292.5" fill="#a22a2e" />
<circle cx="1076.8" cy="1146.1" r="6.5" fill="#2a9a2a"/>
<circle cx="1102.0" cy="1191.5" r="6.5" fill="#2a9a2a"/>
<circle cx="1054.0" cy="1239.5" r="6.5" fill="#2a9a2a"/>
<circle cx="1011.1" cy="1249.6" r="6.5" fill="#2a9a2a"/>
<circle cx="1026.3" cy="1292.5" r="6.5" fill="#2a9a2a"/>
<circle cx="1041.4" cy="1297.6" r="6.5" fill="#2a9a2a"/>
<circle cx="1139.9" cy="1290.0" r="6.5" fill="#2a9a2a"/>
<circle cx="1200.5" cy="1186.5" r="6.5" fill="#2a9a2a"/>
<circle cx="1170.2" cy="1234.4" r="6.5" fill="#2a9a2a"/>
<circle cx="1109.6" cy="1136.0" r="6.5" fill="#2a9a2a"/>
<circle cx="1076.8" cy="1191.5" r="6.5" fill="#2a9a2a"/>
<circle cx="1031.3" cy="1156.2" r="6.5" fill="#2a9a2a"/>
<circle cx="1147.5" cy="1153.6" r="6.5" fill="#2a9a2a"/>
<circle cx="1051.5" cy="1242.0" r="6.5" fill="#2a9a2a"/>
<circle cx="1097.0" cy="1290.0" r="6.5" fill="#2a9a2a"/>
<circle cx="1031.3" cy="1191.5" r="5.5" fill="#5aa8b0"/>
<circle cx="1086.9" cy="1282.4" r="5.5" fill="#5aa8b0"/>
<circle cx="1175.3" cy="1330.4" r="5.5" fill="#5aa8b0"/>
<circle cx="975.8" cy="1353.1" r="5.5" fill="#5aa8b0"/>
<circle cx="1142.4" cy="1186.5" r="5.5" fill="#5aa8b0"/>
<circle cx="1225.8" cy="1171.3" r="5.5" fill="#5aa8b0"/>
<circle cx="998.5" cy="1112.0" r="8.0" fill="url(#gO)"/>
<circle cx="1018.7" cy="1122.1" r="8.0" fill="url(#gO)"/>
<circle cx="1059.1" cy="1112.0" r="8.0" fill="url(#gO)"/>
<circle cx="1079.3" cy="1090.5" r="8.0" fill="url(#gO)"/>
<circle cx="1099.5" cy="1100.6" r="8.0" fill="url(#gO)"/>
<circle cx="1117.2" cy="1110.7" r="8.0" fill="url(#gO)"/>
<circle cx="1138.6" cy="1090.5" r="8.0" fill="url(#gO)"/>
<circle cx="1137.4" cy="1120.8" r="8.0" fill="url(#gO)"/>
<circle cx="1177.8" cy="1109.4" r="8.0" fill="url(#gO)"/>
<circle cx="1196.7" cy="1089.2" r="8.0" fill="url(#gO)"/>
<circle cx="1256.1" cy="1089.2" r="8.0" fill="url(#gO)"/>
<circle cx="1214.4" cy="1100.6" r="8.0" fill="url(#gO)"/>
<circle cx="1196.7" cy="1143.5" r="8.0" fill="url(#gO)"/>
<circle cx="1228.3" cy="1133.4" r="8.0" fill="url(#gO)"/>
<circle cx="1248.5" cy="1144.8" r="8.0" fill="url(#gO)"/>
<circle cx="998.5" cy="1167.5" r="8.0" fill="url(#gO)"/>
<circle cx="1051.5" cy="1166.3" r="8.0" fill="url(#gO)"/>
<circle cx="1117.2" cy="1166.3" r="8.0" fill="url(#gO)"/>
<circle cx="1168.9" cy="1166.3" r="8.0" fill="url(#gO)"/>
<circle cx="1220.7" cy="1197.8" r="8.0" fill="url(#gO)"/>
<circle cx="1261.1" cy="1187.7" r="8.0" fill="url(#gO)"/>
<circle cx="1003.5" cy="1210.5" r="8.0" fill="url(#gO)"/>
<circle cx="1025.0" cy="1219.3" r="8.0" fill="url(#gO)"/>
<circle cx="1065.4" cy="1209.2" r="8.0" fill="url(#gO)"/>
<circle cx="1121.0" cy="1210.5" r="8.0" fill="url(#gO)"/>
<circle cx="1142.4" cy="1218.0" r="8.0" fill="url(#gO)"/>
<circle cx="1182.8" cy="1207.9" r="8.0" fill="url(#gO)"/>
<circle cx="1129.8" cy="1248.3" r="8.0" fill="url(#gO)"/>
<circle cx="1190.4" cy="1247.1" r="8.0" fill="url(#gO)"/>
<circle cx="935.4" cy="1269.8" r="8.0" fill="url(#gO)"/>
<circle cx="973.2" cy="1259.7" r="8.0" fill="url(#gO)"/>
<circle cx="993.4" cy="1269.8" r="8.0" fill="url(#gO)"/>
<circle cx="1051.5" cy="1268.5" r="8.0" fill="url(#gO)"/>
<circle cx="1112.1" cy="1268.5" r="8.0" fill="url(#gO)"/>
<circle cx="1091.9" cy="1255.9" r="8.0" fill="url(#gO)"/>
<circle cx="1196.7" cy="1290.0" r="8.0" fill="url(#gO)"/>
<circle cx="1161.4" cy="1297.6" r="8.0" fill="url(#gO)"/>
<circle cx="945.5" cy="1312.7" r="8.0" fill="url(#gO)"/>
<circle cx="964.4" cy="1320.3" r="8.0" fill="url(#gO)"/>
<circle cx="999.7" cy="1312.7" r="8.0" fill="url(#gO)"/>
<circle cx="1064.1" cy="1311.5" r="8.0" fill="url(#gO)"/>
<circle cx="1081.8" cy="1320.3" r="8.0" fill="url(#gO)"/>
<circle cx="1118.4" cy="1311.5" r="8.0" fill="url(#gO)"/>
<circle cx="1018.7" cy="1346.8" r="8.0" fill="url(#gO)"/>
<circle cx="1137.4" cy="1346.8" r="8.0" fill="url(#gO)"/>
<circle cx="1196.7" cy="1345.6" r="8.0" fill="url(#gO)"/>
<circle cx="939.1" cy="1368.3" r="8.0" fill="url(#gO)"/>
<circle cx="999.7" cy="1368.3" r="8.0" fill="url(#gO)"/>
<circle cx="1057.8" cy="1367.0" r="8.0" fill="url(#gO)"/>
<circle cx="1115.9" cy="1365.8" r="8.0" fill="url(#gO)"/>
<circle cx="1225.8" cy="1292.5" r="8.0" fill="url(#gO)"/>
<circle cx="1167.7" cy="1300.1" r="8.0" fill="url(#gO)"/>
<circle cx="963.1" cy="1292.5" r="8.0" fill="url(#gO)"/>
<circle cx="1228.3" cy="1201.6" r="8.0" fill="url(#gO)"/>
<text x="98.6" y="682.0" font-family="Liberation Sans, Arial, sans-serif" font-weight="normal" font-size="24.0" fill="#262626" stroke="#262626" stroke-width="0.9" textLength="233.9" lengthAdjust="spacingAndGlyphs">Mn(Ti)O<tspan font-size="14.9" dy="6.0">2</tspan><tspan dy="-6.0"> (25 °C, air)</tspan></text>
<text x="632.5" y="691.0" font-family="Liberation Sans, Arial, sans-serif" font-weight="normal" font-size="24.0" fill="#262626" stroke="#262626" stroke-width="0.9" textLength="297.5" lengthAdjust="spacingAndGlyphs">Na<tspan font-size="14.9" dy="6.0">x</tspan><tspan dy="-6.0">Mn(Ti)O</tspan><tspan font-size="14.9" dy="6.0">2</tspan><tspan dy="-6.0"> (700</tspan><tspan font-size="13" dy="-10">+</tspan><tspan dy="10"> °C, air)</tspan></text>
<text x="971.0" y="768.5" font-family="Liberation Sans, Arial, sans-serif" font-weight="normal" font-size="24.0" fill="#262626" stroke="#262626" stroke-width="0.9" textLength="270.0" lengthAdjust="spacingAndGlyphs">Tetragonal BaTi(Mn)O<tspan font-size="14.9" dy="6.0">3</tspan></text>
<text x="107.0" y="856.0" font-family="Liberation Sans, Arial, sans-serif" font-weight="normal" font-size="24.0" fill="#262626" stroke="#262626" stroke-width="0.9" textLength="49.0" lengthAdjust="spacingAndGlyphs">TiO<tspan font-size="14.9" dy="6.0">6</tspan></text>
<text x="204.5" y="856.0" font-family="Liberation Sans, Arial, sans-serif" font-weight="normal" font-size="24.0" fill="#262626" stroke="#262626" stroke-width="0.9" textLength="66.1" lengthAdjust="spacingAndGlyphs">MnO<tspan font-size="14.9" dy="6.0">6</tspan></text>
<text x="877.0" y="943.0" font-family="Liberation Sans, Arial, sans-serif" font-weight="normal" font-size="24.0" fill="#262626" stroke="#262626" stroke-width="0.9" textLength="66.6" lengthAdjust="spacingAndGlyphs">BaO<tspan font-size="14.9" dy="6.0">12</tspan></text>
<text x="996.5" y="943.0" font-family="Liberation Sans, Arial, sans-serif" font-weight="normal" font-size="24.0" fill="#262626" stroke="#262626" stroke-width="0.9" textLength="49.1" lengthAdjust="spacingAndGlyphs">TiO<tspan font-size="14.9" dy="6.0">6</tspan></text>
<text x="1092.7" y="943.0" font-family="Liberation Sans, Arial, sans-serif" font-weight="normal" font-size="24.0" fill="#262626" stroke="#262626" stroke-width="0.9" textLength="87.3" lengthAdjust="spacingAndGlyphs">Mn<tspan font-size="14" dy="-10">3+</tspan><tspan dy="10">O</tspan><tspan font-size="14.9" dy="6.0">6</tspan></text>
<text x="1208.0" y="943.0" font-family="Liberation Sans, Arial, sans-serif" font-weight="normal" font-size="24.0" fill="#262626" stroke="#262626" stroke-width="0.9" textLength="85.7" lengthAdjust="spacingAndGlyphs">Mn<tspan font-size="14" dy="-10">4+</tspan><tspan dy="10">O</tspan><tspan font-size="14.9" dy="6.0">6</tspan></text>
<text x="432.0" y="1029.0" font-family="Liberation Sans, Arial, sans-serif" font-weight="bold" font-size="35.0" fill="#1a1a1a" textLength="355.5" lengthAdjust="spacingAndGlyphs">m-n-BTMW catalyst</text>
<text x="86.0" y="1428.0" font-family="Liberation Sans, Arial, sans-serif" font-weight="normal" font-size="24.0" fill="#262626" stroke="#262626" stroke-width="0.9" textLength="243.6" lengthAdjust="spacingAndGlyphs">c-Na<tspan font-size="14.9" dy="6.0">2</tspan><tspan dy="-6.0">WO</tspan><tspan font-size="14.9" dy="6.0">4</tspan><tspan dy="-6.0"> (25 °C, air)</tspan></text>
<text x="559.0" y="1424.5" font-family="Liberation Sans, Arial, sans-serif" font-weight="normal" font-size="24.0" fill="#262626" stroke="#262626" stroke-width="0.9" textLength="340.8" lengthAdjust="spacingAndGlyphs">Melted Na<tspan font-size="14.9" dy="6.0">2</tspan><tspan dy="-6.0">WO</tspan><tspan font-size="14.9" dy="6.0">4</tspan><tspan dy="-6.0"> (700</tspan><tspan font-size="13" dy="-10">+</tspan><tspan dy="10"> °C, air)</tspan></text>
<text x="987.0" y="1426.0" font-family="Liberation Sans, Arial, sans-serif" font-weight="normal" font-size="24.0" fill="#262626" stroke="#262626" stroke-width="0.9" textLength="266.5" lengthAdjust="spacingAndGlyphs">Hexagonal BaTi(Mn)O<tspan font-size="14.9" dy="6.0">3</tspan></text>
<text x="431.5" y="1216.0" font-family="Liberation Sans, Arial, sans-serif" font-weight="normal" font-size="22.0" fill="#262626" stroke="#262626" stroke-width="0.9" textLength="89.5" lengthAdjust="spacingAndGlyphs">Melting</text>
<text x="492.0" y="447.5" font-family="Liberation Sans, Arial, sans-serif" font-weight="normal" font-size="21.0" fill="#262626" stroke="#262626" stroke-width="0.9" textLength="28.0" lengthAdjust="spacingAndGlyphs">Na</text>
<text x="453.0" y="481.0" font-family="Liberation Sans, Arial, sans-serif" font-weight="normal" font-size="21.0" fill="#262626" stroke="#262626" stroke-width="0.9" textLength="106.4" lengthAdjust="spacingAndGlyphs">insertion</text>
<text x="575.0" y="1113.0" font-family="Liberation Sans, Arial, sans-serif" font-weight="normal" font-size="14.0" fill="#262626" stroke="#262626" stroke-width="0.9" textLength="15.0" lengthAdjust="spacingAndGlyphs">W</text>
<text x="683.0" y="1113.0" font-family="Liberation Sans, Arial, sans-serif" font-weight="normal" font-size="14.0" fill="#262626" stroke="#262626" stroke-width="0.9" textLength="20.0" lengthAdjust="spacingAndGlyphs">Na</text>
<text x="796.0" y="1110.0" font-family="Liberation Sans, Arial, sans-serif" font-weight="normal" font-size="14.0" fill="#262626" stroke="#262626" stroke-width="0.9" textLength="11.0" lengthAdjust="spacingAndGlyphs">O</text>
<g id="contour">
<path d="M2061.6 1303.0L2066.6 1301.4L2067.3 1299.9L2154.7 1295.3L2158.2 1295.3L2244.9 1293.9L2249.1 1293.7L2335.1 1292.3L2340.0 1292.0L2340.0 1303.0L2249.1 1303.0L2158.2 1303.0L2067.3 1303.0Z" fill="#0000ff" stroke="#0000ff" stroke-width="0.8"/>
<path d="M2340.0 1292.0L2335.1 1292.3L2249.1 1293.7L2244.9 1293.9L2158.2 1295.3L2154.7 1295.3L2067.3 1299.9L2066.6 1301.4L2061.6 1303.0L2033.2 1303.0L2062.9 1293.4L2067.3 1284.2L2147.7 1280.0L2158.2 1280.0L2238.0 1278.6L2249.1 1278.3L2328.1 1276.9L2340.0 1276.3Z" fill="#0024ff" stroke="#0024ff" stroke-width="0.8"/>
<path d="M2340.0 1276.3L2328.1 1276.9L2249.1 1278.3L2238.0 1278.6L2158.2 1280.0L2147.7 1280.0L2067.3 1284.2L2062.9 1293.4L2033.2 1303.0L2004.8 1303.0L2059.2 1285.3L2067.3 1268.5L2140.7 1264.7L2158.2 1264.7L2231.1 1263.4L2249.1 1262.8L2321.1 1261.6L2340.0 1260.6Z" fill="#0049ff" stroke="#0049ff" stroke-width="0.8"/>
<path d="M2340.0 1260.6L2321.1 1261.6L2249.1 1262.8L2231.1 1263.4L2158.2 1264.7L2140.7 1264.7L2067.3 1268.5L2059.2 1285.3L2004.8 1303.0L1976.4 1303.0L2055.6 1277.3L2067.3 1252.8L2133.7 1249.3L2158.2 1249.3L2224.1 1248.2L2249.1 1247.4L2314.1 1246.3L2340.0 1244.9Z" fill="#006dff" stroke="#006dff" stroke-width="0.8"/>
<path d="M2340.0 1244.9L2314.1 1246.3L2249.1 1247.4L2224.1 1248.2L2158.2 1249.3L2133.7 1249.3L2067.3 1252.8L2055.6 1277.3L1976.4 1303.0L1915.8 1303.0L1972.4 1294.1L1976.4 1293.8L2051.9 1269.2L2067.3 1237.1L2126.7 1234.0L2158.2 1234.0L2217.2 1233.0L2249.1 1231.9L2307.1 1230.9L2340.0 1229.2Z" fill="#0092ff" stroke="#0092ff" stroke-width="0.8"/>
<path d="M2340.0 1229.2L2307.1 1230.9L2249.1 1231.9L2217.2 1233.0L2158.2 1234.0L2126.7 1234.0L2067.3 1237.1L2051.9 1269.2L1976.4 1293.8L1972.4 1294.1L1915.8 1303.0L1885.5 1303.0L1883.6 1303.0L1883.6 1298.8L1885.5 1298.3L1968.3 1285.3L1976.4 1284.5L2048.2 1261.2L2067.3 1221.4L2119.7 1218.6L2158.2 1218.6L2210.2 1217.8L2249.1 1216.4L2300.1 1215.6L2340.0 1213.5Z" fill="#00b6ff" stroke="#00b6ff" stroke-width="0.8"/>
<path d="M2340.0 1213.5L2300.1 1215.6L2249.1 1216.4L2210.2 1217.8L2158.2 1218.6L2119.7 1218.6L2067.3 1221.4L2048.2 1261.2L1976.4 1284.5L1968.3 1285.3L1885.5 1298.3L1883.6 1298.8L1883.6 1303.0L1879.9 1303.0L1879.8 1290.4L1885.5 1288.8L1964.3 1276.4L1976.4 1275.3L2044.6 1253.2L2067.3 1205.7L2112.8 1203.3L2158.2 1203.3L2203.3 1202.6L2249.1 1201.0L2293.2 1200.2L2340.0 1197.8Z" fill="#00dbff" stroke="#00dbff" stroke-width="0.8"/>
<path d="M2340.0 1197.8L2293.2 1200.2L2249.1 1201.0L2203.3 1202.6L2158.2 1203.3L2112.8 1203.3L2067.3 1205.7L2044.6 1253.2L1976.4 1275.3L1964.3 1276.4L1885.5 1288.8L1879.8 1290.4L1879.9 1303.0L1876.1 1303.0L1876.0 1282.1L1885.5 1279.3L1960.2 1267.6L1976.4 1266.1L2040.9 1245.1L2067.3 1190.0L2105.8 1188.0L2158.2 1188.0L2196.4 1187.3L2249.1 1185.5L2286.2 1184.9L2340.0 1182.1Z" fill="#00ffff" stroke="#00ffff" stroke-width="0.8"/>
<path d="M2340.0 1182.1L2286.2 1184.9L2249.1 1185.5L2196.4 1187.3L2158.2 1188.0L2105.8 1188.0L2067.3 1190.0L2040.9 1245.1L1976.4 1266.1L1960.2 1267.6L1885.5 1279.3L1876.0 1282.1L1876.1 1303.0L1872.4 1303.0L1872.1 1273.7L1885.5 1269.8L1956.2 1258.7L1976.4 1256.8L2037.2 1237.1L2067.3 1174.3L2098.8 1172.6L2158.2 1172.6L2189.4 1172.1L2249.1 1170.1L2279.2 1169.6L2340.0 1166.4Z" fill="#00ffdf" stroke="#00ffdf" stroke-width="0.8"/>
<path d="M1528.8 505.5L1528.8 581.5L1528.8 704.9L1528.8 780.8L1528.8 904.2L1529.2 984.0L1529.2 1103.6L1530.0 1192.2L1530.0 1303.0L1521.9 1303.0L1513.8 1303.0L1514.6 1223.2L1514.6 1103.6L1515.0 1027.7L1515.0 904.2L1515.0 828.3L1515.0 704.9L1515.0 628.9L1515.0 505.5L1521.9 505.5ZM2340.0 1166.4L2279.2 1169.6L2249.1 1170.1L2189.4 1172.1L2158.2 1172.6L2098.8 1172.6L2067.3 1174.3L2037.2 1237.1L1976.4 1256.8L1956.2 1258.7L1885.5 1269.8L1872.1 1273.7L1872.4 1303.0L1868.6 1303.0L1868.3 1265.3L1885.5 1260.3L1952.2 1249.8L1976.4 1247.6L2033.6 1229.0L2067.3 1158.6L2091.8 1157.3L2158.2 1157.3L2182.5 1156.9L2249.1 1154.6L2272.2 1154.2L2340.0 1150.7Z" fill="#00ffbf" stroke="#00ffbf" stroke-width="0.8"/>
<path d="M1515.0 505.5L1515.0 628.9L1515.0 704.9L1515.0 828.3L1515.0 904.2L1515.0 1027.7L1514.6 1103.6L1514.6 1223.2L1513.8 1303.0L1503.7 1303.0L1505.5 1123.6L1505.5 1103.6L1506.3 932.7L1506.3 904.2L1506.3 733.4L1506.3 704.9L1506.3 534.0L1506.3 505.5ZM1537.5 505.5L1537.5 676.4L1537.5 704.9L1537.5 875.8L1537.5 904.2L1538.3 1083.7L1538.3 1103.6L1540.1 1303.0L1530.0 1303.0L1530.0 1192.2L1529.2 1103.6L1529.2 984.0L1528.8 904.2L1528.8 780.8L1528.8 704.9L1528.8 581.5L1528.8 505.5ZM2340.0 1150.7L2272.2 1154.2L2249.1 1154.6L2182.5 1156.9L2158.2 1157.3L2091.8 1157.3L2067.3 1158.6L2033.6 1229.0L1976.4 1247.6L1952.2 1249.8L1885.5 1260.3L1868.3 1265.3L1868.6 1303.0L1864.8 1303.0L1864.5 1256.9L1885.5 1250.8L1948.1 1241.0L1976.4 1238.4L2029.9 1221.0L2067.3 1142.9L2084.8 1142.0L2158.2 1142.0L2175.5 1141.7L2249.1 1139.2L2265.2 1138.9L2340.0 1135.0Z" fill="#00ff9f" stroke="#00ff9f" stroke-width="0.8"/>
<path d="M1506.3 505.5L1506.3 534.0L1506.3 704.9L1506.3 733.4L1506.3 904.2L1506.3 932.7L1505.5 1103.6L1505.5 1123.6L1503.7 1303.0L1496.4 1303.0L1497.2 1231.8L1498.1 1103.6L1498.5 1046.7L1499.0 904.2L1499.0 852.6L1499.0 704.9L1499.0 653.2L1499.0 505.5L1503.7 505.5ZM1543.3 505.5L1543.3 541.3L1543.3 704.9L1543.5 742.6L1543.5 904.2L1543.9 946.5L1544.4 1103.6L1544.9 1156.8L1545.8 1303.0L1540.1 1303.0L1538.3 1103.6L1538.3 1083.7L1537.5 904.2L1537.5 875.8L1537.5 704.9L1537.5 676.4L1537.5 505.5L1540.1 505.5ZM2340.0 1135.0L2265.2 1138.9L2249.1 1139.2L2175.5 1141.7L2158.2 1142.0L2084.8 1142.0L2067.3 1142.9L2029.9 1221.0L1976.4 1238.4L1948.1 1241.0L1885.5 1250.8L1864.5 1256.9L1864.8 1303.0L1861.1 1303.0L1860.7 1248.5L1885.5 1241.3L1944.1 1232.1L1976.4 1229.2L2026.2 1213.0L2067.3 1127.2L2077.8 1126.6L2158.2 1126.6L2168.6 1126.5L2249.1 1123.7L2258.2 1123.6L2340.0 1119.3Z" fill="#00ff80" stroke="#00ff80" stroke-width="0.8"/>
<path d="M1499.0 505.5L1499.0 653.2L1499.0 704.9L1499.0 852.6L1499.0 904.2L1498.5 1046.7L1498.1 1103.6L1497.2 1231.8L1496.4 1303.0L1489.2 1303.0L1490.7 1160.6L1491.1 1103.6L1492.0 975.5L1492.3 904.2L1492.3 778.7L1492.3 704.9L1492.3 579.3L1492.3 505.5ZM1548.0 505.5L1548.0 592.4L1548.0 704.9L1548.4 796.5L1548.4 904.2L1549.4 1007.0L1549.7 1103.6L1551.0 1223.2L1551.4 1303.0L1545.8 1303.0L1544.9 1156.8L1544.4 1103.6L1543.9 946.5L1543.5 904.2L1543.5 742.6L1543.3 704.9L1543.3 541.3L1543.3 505.5ZM2340.0 1119.3L2258.2 1123.6L2249.1 1123.7L2168.6 1126.5L2158.2 1126.6L2077.8 1126.6L2067.3 1127.2L2026.2 1213.0L1976.4 1229.2L1944.1 1232.1L1885.5 1241.3L1860.7 1248.5L1861.1 1303.0L1857.3 1303.0L1856.9 1240.2L1885.5 1231.8L1940.0 1223.2L1976.4 1219.9L2022.6 1204.9L2067.3 1111.5L2070.8 1111.3L2158.2 1111.3L2161.7 1111.2L2249.1 1108.3L2251.2 1108.2L2340.0 1103.6Z" fill="#00ff60" stroke="#00ff60" stroke-width="0.8"/>
<path d="M1492.3 505.5L1492.3 579.3L1492.3 704.9L1492.3 778.7L1492.3 904.2L1492.0 975.5L1491.1 1103.6L1490.7 1160.6L1489.2 1303.0L1485.5 1303.0L1467.4 1303.0L1471.6 1226.3L1478.3 1103.6L1479.9 1073.0L1485.5 904.2L1485.5 704.9L1485.5 505.5ZM1552.7 505.5L1552.7 643.5L1552.7 704.9L1553.3 850.4L1553.3 904.2L1555.0 1067.4L1555.1 1103.6L1557.0 1289.7L1557.1 1303.0L1551.4 1303.0L1551.0 1223.2L1549.7 1103.6L1549.4 1007.0L1548.4 904.2L1548.4 796.5L1548.0 704.9L1548.0 592.4L1548.0 505.5ZM2340.0 1103.6L2251.2 1108.2L2249.1 1108.3L2161.7 1111.2L2158.2 1111.3L2070.8 1111.3L2067.3 1111.5L2022.6 1204.9L1976.4 1219.9L1940.0 1223.2L1885.5 1231.8L1856.9 1240.2L1857.3 1303.0L1853.6 1303.0L1853.0 1231.8L1885.5 1222.3L1936.0 1214.4L1976.4 1210.7L2018.9 1196.9L2063.5 1103.6L2063.9 1096.1L2067.3 1095.2L2154.4 1095.2L2158.2 1095.2L2243.8 1092.0L2249.1 1092.0L2332.6 1087.4L2340.0 1087.3Z" fill="#00ff40" stroke="#00ff40" stroke-width="0.8"/>
<path d="M1440.9 1303.0L1444.9 1255.5L1447.2 1103.6L1447.6 1086.3L1449.2 970.7L1452.0 919.6L1452.5 904.2L1455.2 738.1L1455.2 704.9L1455.2 538.7L1455.2 505.5L1485.5 505.5L1485.5 704.9L1485.5 904.2L1479.9 1073.0L1478.3 1103.6L1471.6 1226.3L1467.4 1303.0L1449.2 1303.0ZM1557.3 505.5L1557.3 694.7L1557.3 704.9L1558.3 904.2L1562.0 1103.6L1563.7 1143.5L1567.4 1303.0L1558.3 1303.0L1557.1 1303.0L1557.0 1289.7L1555.1 1103.6L1555.0 1067.4L1553.3 904.2L1553.3 850.4L1552.7 704.9L1552.7 643.5L1552.7 505.5ZM2340.0 1087.3L2332.6 1087.4L2249.1 1092.0L2243.8 1092.0L2158.2 1095.2L2154.4 1095.2L2067.3 1095.2L2063.9 1096.1L2063.5 1103.6L2018.9 1196.9L1976.4 1210.7L1936.0 1214.4L1885.5 1222.3L1853.0 1231.8L1853.6 1303.0L1849.8 1303.0L1849.2 1223.4L1885.5 1212.8L1932.0 1205.5L1976.4 1201.5L2015.3 1188.8L2056.0 1103.6L2057.0 1081.1L2067.3 1078.4L2146.7 1078.4L2158.2 1078.3L2236.2 1075.4L2249.1 1075.3L2325.2 1071.1L2340.0 1071.0Z" fill="#00ff20" stroke="#00ff20" stroke-width="0.8"/>
<path d="M1431.0 1223.3L1436.2 1160.6L1437.1 1103.6L1439.7 999.6L1441.0 904.2L1441.7 822.7L1442.3 704.9L1442.6 632.4L1442.6 505.5L1449.2 505.5L1455.2 505.5L1455.2 538.7L1455.2 704.9L1455.2 738.1L1452.5 904.2L1452.0 919.6L1449.2 970.7L1447.6 1086.3L1447.2 1103.6L1444.9 1255.5L1440.9 1303.0L1431.0 1303.0ZM1564.9 505.5L1564.9 553.8L1564.9 704.9L1565.3 756.3L1566.5 904.2L1569.2 984.0L1571.4 1103.6L1577.3 1243.2L1578.7 1303.0L1567.4 1303.0L1563.7 1143.5L1562.0 1103.6L1558.3 904.2L1557.3 704.9L1557.3 694.7L1557.3 505.5L1558.3 505.5ZM2340.0 1071.0L2325.2 1071.1L2249.1 1075.3L2236.2 1075.4L2158.2 1078.3L2146.7 1078.4L2067.3 1078.4L2057.0 1081.1L2056.0 1103.6L2015.3 1188.8L1976.4 1201.5L1932.0 1205.5L1885.5 1212.8L1849.2 1223.4L1849.8 1303.0L1846.1 1303.0L1845.4 1215.0L1885.5 1203.3L1927.9 1196.7L1976.4 1192.2L2011.6 1180.8L2048.5 1103.6L2050.1 1066.0L2067.3 1061.6L2139.0 1061.6L2158.2 1061.4L2228.6 1058.8L2249.1 1058.7L2317.8 1054.9L2340.0 1054.8Z" fill="#00ff00" stroke="#00ff00" stroke-width="0.8"/>
<path d="M1431.0 944.1L1431.8 912.9L1431.9 904.2L1433.5 732.1L1433.6 704.9L1434.3 541.7L1434.3 505.5L1442.6 505.5L1442.6 632.4L1442.3 704.9L1441.7 822.7L1441.0 904.2L1439.7 999.6L1437.1 1103.6L1436.2 1160.6L1431.0 1223.3L1431.0 1103.6ZM1573.1 505.5L1573.1 614.2L1573.1 704.9L1574.1 820.6L1574.8 904.2L1580.1 1063.8L1580.8 1103.6L1585.5 1214.4L1588.7 1303.0L1585.5 1303.0L1578.7 1303.0L1577.3 1243.2L1571.4 1103.6L1569.2 984.0L1566.5 904.2L1565.3 756.3L1564.9 704.9L1564.9 553.8L1564.9 505.5ZM2340.0 1054.8L2317.8 1054.9L2249.1 1058.7L2228.6 1058.8L2158.2 1061.4L2139.0 1061.6L2067.3 1061.6L2050.1 1066.0L2048.5 1103.6L2011.6 1180.8L1976.4 1192.2L1927.9 1196.7L1885.5 1203.3L1845.4 1215.0L1846.1 1303.0L1842.3 1303.0L1841.6 1206.7L1885.5 1193.8L1923.9 1187.8L1976.4 1183.0L2007.9 1172.8L2041.0 1103.6L2043.3 1051.0L2067.3 1044.7L2131.4 1044.7L2158.2 1044.5L2221.1 1042.2L2249.1 1042.0L2310.4 1038.6L2340.0 1038.5Z" fill="#24ff00" stroke="#24ff00" stroke-width="0.8"/>
<path d="M1434.3 505.5L1434.3 541.7L1433.6 704.9L1433.5 732.1L1431.9 904.2L1431.8 912.9L1431.0 944.1L1431.0 904.2L1431.0 704.9L1431.0 505.5ZM1581.4 505.5L1581.4 674.7L1581.4 704.9L1582.9 885.0L1583.1 904.2L1585.5 979.0L1588.7 1103.6L1591.0 1143.5L1596.8 1303.0L1588.7 1303.0L1585.5 1214.4L1580.8 1103.6L1580.1 1063.8L1574.8 904.2L1574.1 820.6L1573.1 704.9L1573.1 614.2L1573.1 505.5ZM2340.0 1038.5L2310.4 1038.6L2249.1 1042.0L2221.1 1042.2L2158.2 1044.5L2131.4 1044.7L2067.3 1044.7L2043.3 1051.0L2041.0 1103.6L2007.9 1172.8L1976.4 1183.0L1923.9 1187.8L1885.5 1193.8L1841.6 1206.7L1842.3 1303.0L1838.5 1303.0L1837.8 1198.3L1885.5 1184.3L1919.8 1178.9L1976.4 1173.8L2004.3 1164.7L2033.5 1103.6L2036.4 1035.9L2067.3 1027.9L2123.7 1027.9L2158.2 1027.6L2213.5 1025.5L2249.1 1025.3L2303.0 1022.4L2340.0 1022.2Z" fill="#49ff00" stroke="#49ff00" stroke-width="0.8"/>
<path d="M1588.5 505.5L1588.4 526.7L1588.4 704.9L1588.6 727.0L1589.6 904.2L1591.0 944.1L1595.0 1103.6L1601.9 1223.2L1604.8 1303.0L1596.8 1303.0L1591.0 1143.5L1588.7 1103.6L1585.5 979.0L1583.1 904.2L1582.9 885.0L1581.4 704.9L1581.4 674.7L1581.4 505.5L1585.5 505.5ZM2340.0 1022.2L2303.0 1022.4L2249.1 1025.3L2213.5 1025.5L2158.2 1027.6L2123.7 1027.9L2067.3 1027.9L2036.4 1035.9L2033.5 1103.6L2004.3 1164.7L1976.4 1173.8L1919.8 1178.9L1885.5 1184.3L1837.8 1198.3L1838.5 1303.0L1834.8 1303.0L1833.9 1189.9L1885.5 1174.8L1915.8 1170.1L1976.4 1164.5L2000.6 1156.7L2026.0 1103.6L2029.6 1020.9L2067.3 1011.1L2116.0 1011.1L2158.2 1010.7L2205.9 1008.9L2249.1 1008.7L2295.6 1006.1L2340.0 1005.9Z" fill="#6dff00" stroke="#6dff00" stroke-width="0.8"/>
<path d="M1594.4 505.5L1594.2 569.1L1594.2 704.9L1594.6 771.3L1595.4 904.2L1598.8 1001.1L1601.4 1103.6L1612.8 1303.0L1604.8 1303.0L1601.9 1223.2L1595.0 1103.6L1591.0 944.1L1589.6 904.2L1588.6 727.0L1588.4 704.9L1588.4 526.7L1588.5 505.5ZM2340.0 1005.9L2295.6 1006.1L2249.1 1008.7L2205.9 1008.9L2158.2 1010.7L2116.0 1011.1L2067.3 1011.1L2029.6 1020.9L2026.0 1103.6L2000.6 1156.7L1976.4 1164.5L1915.8 1170.1L1885.5 1174.8L1833.9 1189.9L1834.8 1303.0L1831.0 1303.0L1830.1 1181.5L1885.5 1165.3L1911.8 1161.2L1976.4 1155.3L1996.9 1148.6L2018.5 1103.6L2022.7 1005.8L2067.3 994.3L2108.3 994.3L2158.2 993.8L2198.3 992.3L2249.1 992.0L2288.1 989.9L2340.0 989.6Z" fill="#92ff00" stroke="#92ff00" stroke-width="0.8"/>
<path d="M1600.4 505.5L1600.0 611.6L1600.0 704.9L1600.7 815.6L1601.2 904.2L1606.6 1058.1L1607.7 1103.6L1612.8 1192.2L1622.8 1303.0L1612.8 1303.0L1601.4 1103.6L1598.8 1001.1L1595.4 904.2L1594.6 771.3L1594.2 704.9L1594.2 569.1L1594.4 505.5ZM2340.0 989.6L2288.1 989.9L2249.1 992.0L2198.3 992.3L2158.2 993.8L2108.3 994.3L2067.3 994.3L2022.7 1005.8L2018.5 1103.6L1996.9 1148.6L1976.4 1155.3L1911.8 1161.2L1885.5 1165.3L1830.1 1181.5L1831.0 1303.0L1827.3 1303.0L1826.3 1173.2L1885.5 1155.8L1907.7 1152.4L1976.4 1146.1L1993.3 1140.6L2011.0 1103.6L2015.8 990.8L2067.3 977.4L2100.7 977.4L2158.2 976.9L2190.8 975.7L2249.1 975.4L2280.7 973.6L2340.0 973.3Z" fill="#b6ff00" stroke="#b6ff00" stroke-width="0.8"/>
<path d="M1606.3 505.5L1605.8 654.0L1605.8 704.9L1606.7 859.9L1607.0 904.2L1612.8 1070.4L1615.3 1103.6L1615.3 1109.1L1632.9 1303.0L1622.8 1303.0L1612.8 1192.2L1607.7 1103.6L1606.6 1058.1L1601.2 904.2L1600.7 815.6L1600.0 704.9L1600.0 611.6L1600.4 505.5ZM2340.0 973.3L2280.7 973.6L2249.1 975.4L2190.8 975.7L2158.2 976.9L2100.7 977.4L2067.3 977.4L2015.8 990.8L2011.0 1103.6L1993.3 1140.6L1976.4 1146.1L1907.7 1152.4L1885.5 1155.8L1826.3 1173.2L1827.3 1303.0L1823.5 1303.0L1822.5 1164.8L1885.5 1146.3L1903.7 1143.5L1976.4 1136.9L1989.6 1132.6L2003.4 1103.6L2009.0 975.7L2067.3 960.6L2093.0 960.6L2158.2 960.0L2183.2 959.1L2249.1 958.7L2273.3 957.4L2340.0 957.0Z" fill="#dbff00" stroke="#dbff00" stroke-width="0.8"/>
<path d="M1612.2 505.5L1611.6 696.4L1611.6 704.9L1612.8 904.2L1627.9 1103.6L1627.8 1136.6L1642.9 1303.0L1632.9 1303.0L1615.3 1109.1L1615.3 1103.6L1612.8 1070.4L1607.0 904.2L1606.7 859.9L1605.8 704.9L1605.8 654.0L1606.3 505.5ZM2340.0 602.3L2293.2 602.3L2249.1 598.2L2199.3 595.7L2158.2 592.0L2104.0 586.0L2067.3 582.7L2006.7 505.5L2067.3 505.5L2158.2 505.5L2249.1 505.5L2340.0 505.5ZM2340.0 957.0L2273.3 957.4L2249.1 958.7L2183.2 959.1L2158.2 960.0L2093.0 960.6L2067.3 960.6L2009.0 975.7L2003.4 1103.6L1989.6 1132.6L1976.4 1136.9L1903.7 1143.5L1885.5 1146.3L1822.5 1164.8L1823.5 1303.0L1819.8 1303.0L1818.7 1156.4L1885.5 1136.9L1899.6 1134.6L1976.4 1127.6L1985.9 1124.5L1995.9 1103.6L2002.1 960.7L2067.3 943.8L2085.3 943.8L2158.2 943.1L2175.6 942.5L2249.1 942.1L2265.9 941.1L2340.0 940.7Z" fill="#ffff00" stroke="#ffff00" stroke-width="0.8"/>
<path d="M1645.5 505.5L1648.4 583.5L1645.9 704.9L1638.8 761.8L1643.1 904.2L1627.9 937.4L1640.5 1103.6L1640.4 1164.1L1653.0 1303.0L1642.9 1303.0L1627.8 1136.6L1627.9 1103.6L1612.8 904.2L1611.6 704.9L1611.6 696.4L1612.2 505.5L1612.8 505.5ZM2006.7 505.5L2067.3 582.7L2104.0 586.0L2158.2 592.0L2199.3 595.7L2249.1 598.2L2293.2 602.3L2340.0 602.3L2340.0 699.1L2337.4 699.1L2249.1 691.0L2242.6 690.6L2158.2 683.0L2147.7 681.9L2067.3 674.6L2034.3 632.6L1976.4 558.5L1922.6 505.5L1976.4 505.5ZM2340.0 940.7L2265.9 941.1L2249.1 942.1L2175.6 942.5L2158.2 943.1L2085.3 943.8L2067.3 943.8L2002.1 960.7L1995.9 1103.6L1985.9 1124.5L1976.4 1127.6L1899.6 1134.6L1885.5 1136.9L1818.7 1156.4L1819.8 1303.0L1816.0 1303.0L1814.8 1148.0L1885.5 1127.4L1895.6 1125.8L1976.4 1118.4L1982.3 1116.5L1988.4 1103.6L1995.3 945.6L2067.3 927.0L2077.7 927.0L2158.2 926.2L2168.0 925.8L2249.1 925.4L2258.5 924.9L2340.0 924.4Z" fill="#ffdb00" stroke="#ffdb00" stroke-width="0.8"/>
<path d="M1681.9 505.5L1687.9 670.2L1687.2 704.9L1671.2 833.0L1673.4 904.2L1643.0 970.5L1653.1 1103.6L1652.9 1191.6L1663.0 1303.0L1653.0 1303.0L1640.4 1164.1L1640.5 1103.6L1627.9 937.4L1643.1 904.2L1638.8 761.8L1645.9 704.9L1648.4 583.5L1645.5 505.5ZM1922.6 505.5L1976.4 558.5L2034.3 632.6L2067.3 674.6L2147.7 681.9L2158.2 683.0L2242.6 690.6L2249.1 691.0L2337.4 699.1L2340.0 699.1L2340.0 704.9L2340.0 863.7L2320.0 860.4L2249.1 856.2L2225.3 852.0L2158.2 847.8L2130.1 842.6L2067.3 835.8L2019.3 704.9L1976.4 650.0L1931.0 605.2L1885.5 625.1L1824.9 505.5L1885.5 505.5ZM2340.0 924.4L2258.5 924.9L2249.1 925.4L2168.0 925.8L2158.2 926.2L2077.7 927.0L2067.3 927.0L1995.3 945.6L1988.4 1103.6L1982.3 1116.5L1976.4 1118.4L1895.6 1125.8L1885.5 1127.4L1814.8 1148.0L1816.0 1303.0L1812.3 1303.0L1811.0 1139.6L1885.5 1117.9L1891.6 1116.9L1976.4 1109.2L1978.6 1108.4L1980.9 1103.6L1988.4 930.6L2067.3 910.1L2070.0 910.1L2158.2 909.3L2160.5 909.2L2249.1 908.7L2251.1 908.6L2340.0 908.2Z" fill="#ffb600" stroke="#ffb600" stroke-width="0.8"/>
<path d="M1824.9 505.5L1885.5 625.1L1931.0 605.2L1976.4 650.0L2019.3 704.9L2067.3 835.8L2130.1 842.6L2158.2 847.8L2225.3 852.0L2249.1 856.2L2320.0 860.4L2340.0 863.7L2340.0 904.2L2340.0 908.2L2251.1 908.6L2249.1 908.7L2160.5 909.2L2158.2 909.3L2070.0 910.1L2067.3 910.1L1988.4 930.6L1980.9 1103.6L1978.6 1108.4L1976.4 1109.2L1891.6 1116.9L1885.5 1117.9L1811.0 1139.6L1812.3 1303.0L1808.5 1303.0L1807.2 1131.3L1885.5 1108.4L1887.5 1108.1L1936.0 1103.6L1885.5 1003.9L1870.3 904.2L1860.9 850.4L1857.5 704.9L1794.6 573.6L1724.5 551.1L1731.7 704.9L1721.3 743.5L1703.7 904.2L1658.1 1003.6L1665.7 1103.6L1665.5 1219.1L1673.1 1303.0L1663.0 1303.0L1652.9 1191.6L1653.1 1103.6L1643.0 970.5L1673.4 904.2L1671.2 833.0L1687.2 704.9L1687.9 670.2L1681.9 505.5L1703.7 505.5L1794.6 505.5ZM1976.4 1034.3L1981.5 915.5L2025.1 904.2L1976.4 774.2L1925.9 793.5L1921.9 904.2Z" fill="#ff9200" stroke="#ff9200" stroke-width="0.8"/>
<path d="M1804.7 1303.0L1803.4 1122.9L1869.3 1103.6L1862.8 1053.8L1840.0 904.2L1811.8 742.6L1810.9 704.9L1794.6 670.8L1776.4 665.0L1778.3 704.9L1750.6 807.8L1740.1 904.2L1731.2 964.7L1703.7 970.3L1673.2 1036.7L1678.3 1103.6L1678.0 1246.6L1683.1 1303.0L1673.1 1303.0L1665.5 1219.1L1665.7 1103.6L1658.1 1003.6L1703.7 904.2L1721.3 743.5L1731.7 704.9L1724.5 551.1L1794.6 573.6L1857.5 704.9L1860.9 850.4L1870.3 904.2L1885.5 1003.9L1936.0 1103.6L1887.5 1108.1L1885.5 1108.4L1807.2 1131.3L1808.5 1303.0ZM1921.9 904.2L1925.9 793.5L1976.4 774.2L2025.1 904.2L1981.5 915.5L1976.4 1034.3Z" fill="#ff6d00" stroke="#ff6d00" stroke-width="0.8"/>
<path d="M1801.0 1303.0L1799.6 1114.5L1836.8 1103.6L1817.3 954.1L1809.8 904.2L1794.6 817.6L1779.9 872.1L1776.4 904.2L1758.8 1025.1L1703.7 1036.3L1688.3 1069.8L1690.9 1103.6L1690.5 1274.1L1693.2 1303.0L1683.1 1303.0L1678.0 1246.6L1678.3 1103.6L1673.2 1036.7L1703.7 970.3L1731.2 964.7L1740.1 904.2L1750.6 807.8L1778.3 704.9L1776.4 665.0L1794.6 670.8L1810.9 704.9L1811.8 742.6L1840.0 904.2L1862.8 1053.8L1869.3 1103.6L1803.4 1122.9L1804.7 1303.0Z" fill="#ff4900" stroke="#ff4900" stroke-width="0.8"/>
<path d="M1797.2 1303.0L1795.7 1106.1L1804.3 1103.6L1794.6 1028.9L1786.3 1085.5L1703.7 1102.3L1703.4 1103.0L1703.4 1103.6L1703.1 1301.6L1703.2 1303.0L1693.2 1303.0L1690.5 1274.1L1690.9 1103.6L1688.3 1069.8L1703.7 1036.3L1758.8 1025.1L1776.4 904.3L1779.9 872.1L1794.6 817.6L1809.8 904.2L1817.3 954.1L1836.8 1103.6L1799.6 1114.5L1801.0 1303.0Z" fill="#ff2400" stroke="#ff2400" stroke-width="0.8"/>
<path d="M1703.2 1303.0L1703.1 1301.6L1703.4 1103.6L1703.4 1103.0L1703.7 1102.3L1786.3 1085.5L1794.6 1028.9L1804.3 1103.6L1795.7 1106.1L1797.2 1303.0L1794.6 1303.0L1703.7 1303.0Z" fill="#ff0000" stroke="#ff0000" stroke-width="0.8"/>
</g>
<polyline points="1614.0,1300.5 1700.0,1300.5 1703.7,1102.0 1780.0,1081.6 1794.5,1016.0 1807.0,1103.0 1797.0,1107.0 1797.7,1301.0" fill="none" stroke="#000" stroke-width="9" stroke-linejoin="round"/>
<line x1="1744" y1="1186" x2="1719.5" y2="875" stroke="#000" stroke-width="4.5"/>
<polygon points="1717,845 1707.5,881 1727.5,879.5" fill="#000"/>
<rect x="1431.0" y="505.5" width="909.0" height="797.5" fill="none" stroke="#000" stroke-width="3.5"/>
<line x1="1431.0" y1="1303.0" x2="1431.0" y2="1289.0" stroke="#000" stroke-width="3"/>
<line x1="1521.9" y1="1303.0" x2="1521.9" y2="1289.0" stroke="#000" stroke-width="3"/>
<line x1="1612.8" y1="1303.0" x2="1612.8" y2="1289.0" stroke="#000" stroke-width="3"/>
<line x1="1703.7" y1="1303.0" x2="1703.7" y2="1289.0" stroke="#000" stroke-width="3"/>
<line x1="1794.6" y1="1303.0" x2="1794.6" y2="1289.0" stroke="#000" stroke-width="3"/>
<line x1="1885.5" y1="1303.0" x2="1885.5" y2="1289.0" stroke="#000" stroke-width="3"/>
<line x1="1976.4" y1="1303.0" x2="1976.4" y2="1289.0" stroke="#000" stroke-width="3"/>
<line x1="2067.3" y1="1303.0" x2="2067.3" y2="1289.0" stroke="#000" stroke-width="3"/>
<line x1="2158.2" y1="1303.0" x2="2158.2" y2="1289.0" stroke="#000" stroke-width="3"/>
<line x1="2249.1" y1="1303.0" x2="2249.1" y2="1289.0" stroke="#000" stroke-width="3"/>
<line x1="2340.0" y1="1303.0" x2="2340.0" y2="1289.0" stroke="#000" stroke-width="3"/>
<line x1="1431.0" y1="1103.6" x2="1445.0" y2="1103.6" stroke="#000" stroke-width="3"/>
<line x1="1431.0" y1="904.2" x2="1445.0" y2="904.2" stroke="#000" stroke-width="3"/>
<line x1="1431.0" y1="704.9" x2="1445.0" y2="704.9" stroke="#000" stroke-width="3"/>
<text x="1431.0" y="1355.5" font-family="Liberation Sans, Arial, sans-serif" font-weight="bold" font-size="44" text-anchor="middle">0.0</text>
<text x="1521.9" y="1355.5" font-family="Liberation Sans, Arial, sans-serif" font-weight="bold" font-size="44" text-anchor="middle">0.1</text>
<text x="1612.8" y="1355.5" font-family="Liberation Sans, Arial, sans-serif" font-weight="bold" font-size="44" text-anchor="middle">0.2</text>
<text x="1703.7" y="1355.5" font-family="Liberation Sans, Arial, sans-serif" font-weight="bold" font-size="44" text-anchor="middle">0.3</text>
<text x="1794.6" y="1355.5" font-family="Liberation Sans, Arial, sans-serif" font-weight="bold" font-size="44" text-anchor="middle">0.4</text>
<text x="1885.5" y="1355.5" font-family="Liberation Sans, Arial, sans-serif" font-weight="bold" font-size="44" text-anchor="middle">0.5</text>
<text x="1976.4" y="1355.5" font-family="Liberation Sans, Arial, sans-serif" font-weight="bold" font-size="44" text-anchor="middle">0.6</text>
<text x="2067.3" y="1355.5" font-family="Liberation Sans, Arial, sans-serif" font-weight="bold" font-size="44" text-anchor="middle">0.7</text>
<text x="2158.2" y="1355.5" font-family="Liberation Sans, Arial, sans-serif" font-weight="bold" font-size="44" text-anchor="middle">0.8</text>
<text x="2249.1" y="1355.5" font-family="Liberation Sans, Arial, sans-serif" font-weight="bold" font-size="44" text-anchor="middle">0.9</text>
<text x="2340.0" y="1355.5" font-family="Liberation Sans, Arial, sans-serif" font-weight="bold" font-size="44" text-anchor="middle">1.0</text>
<text x="1414" y="520.0" font-family="Liberation Sans, Arial, sans-serif" font-weight="bold" font-size="44" text-anchor="end">800</text>
<text x="1414" y="719.4" font-family="Liberation Sans, Arial, sans-serif" font-weight="bold" font-size="44" text-anchor="end">775</text>
<text x="1414" y="918.8" font-family="Liberation Sans, Arial, sans-serif" font-weight="bold" font-size="44" text-anchor="end">750</text>
<text x="1414" y="1118.1" font-family="Liberation Sans, Arial, sans-serif" font-weight="bold" font-size="44" text-anchor="end">725</text>
<text x="1414" y="1317.5" font-family="Liberation Sans, Arial, sans-serif" font-weight="bold" font-size="44" text-anchor="end">700</text>
<text x="1277" y="438.5" font-family="Liberation Sans, Arial, sans-serif" font-weight="bold" font-size="44" textLength="331.5" lengthAdjust="spacingAndGlyphs">Rxn Temp. (<tspan font-size="28" dy="-17">o</tspan><tspan dy="17">C)</tspan></text>
<text x="1632" y="1425" font-family="Liberation Sans, Arial, sans-serif" font-weight="bold" font-size="40" textLength="564.3" lengthAdjust="spacingAndGlyphs">n (in 3.5-n-BTMW catalysts)</text>
<text x="1503.6" y="745" font-family="Liberation Sans, Arial, sans-serif" font-weight="bold" font-size="52" textLength="474.6" lengthAdjust="spacingAndGlyphs">Optimal catalysts</text>
<text x="1503" y="816" font-family="Liberation Sans, Arial, sans-serif" font-weight="bold" font-size="52" textLength="787.6" lengthAdjust="spacingAndGlyphs">for the low temperature OCM</text>
<rect x="2356" y="622.00" width="134" height="21.79" fill="#000000"/>
<rect x="2356" y="643.19" width="134" height="21.79" fill="#0000ff"/>
<rect x="2356" y="664.38" width="134" height="21.79" fill="#0024ff"/>
<rect x="2356" y="685.56" width="134" height="21.79" fill="#0049ff"/>
<rect x="2356" y="706.75" width="134" height="21.79" fill="#006dff"/>
<rect x="2356" y="727.94" width="134" height="21.79" fill="#0092ff"/>
<rect x="2356" y="749.12" width="134" height="21.79" fill="#00b6ff"/>
<rect x="2356" y="770.31" width="134" height="21.79" fill="#00dbff"/>
<rect x="2356" y="791.50" width="134" height="21.79" fill="#00ffff"/>
<rect x="2356" y="812.69" width="134" height="21.79" fill="#00ffdf"/>
<rect x="2356" y="833.88" width="134" height="21.79" fill="#00ffbf"/>
<rect x="2356" y="855.06" width="134" height="21.79" fill="#00ff9f"/>
<rect x="2356" y="876.25" width="134" height="21.79" fill="#00ff80"/>
<rect x="2356" y="897.44" width="134" height="21.79" fill="#00ff60"/>
<rect x="2356" y="918.62" width="134" height="21.79" fill="#00ff40"/>
<rect x="2356" y="939.81" width="134" height="21.79" fill="#00ff20"/>
<rect x="2356" y="961.00" width="134" height="21.79" fill="#00ff00"/>
<rect x="2356" y="982.19" width="134" height="21.79" fill="#24ff00"/>
<rect x="2356" y="1003.38" width="134" height="21.79" fill="#49ff00"/>
<rect x="2356" y="1024.56" width="134" height="21.79" fill="#6dff00"/>
<rect x="2356" y="1045.75" width="134" height="21.79" fill="#92ff00"/>
<rect x="2356" y="1066.94" width="134" height="21.79" fill="#b6ff00"/>
<rect x="2356" y="1088.12" width="134" height="21.79" fill="#dbff00"/>
<rect x="2356" y="1109.31" width="134" height="21.79" fill="#ffff00"/>
<rect x="2356" y="1130.50" width="134" height="21.79" fill="#ffdb00"/>
<rect x="2356" y="1151.69" width="134" height="21.79" fill="#ffb600"/>
<rect x="2356" y="1172.88" width="134" height="21.79" fill="#ff9200"/>
<rect x="2356" y="1194.06" width="134" height="21.79" fill="#ff6d00"/>
<rect x="2356" y="1215.25" width="134" height="21.79" fill="#ff4900"/>
<rect x="2356" y="1236.44" width="134" height="21.79" fill="#ff2400"/>
<rect x="2356" y="1257.62" width="134" height="21.79" fill="#ff0000"/>
<rect x="2356" y="1278.81" width="134" height="21.79" fill="#808080"/>
<text x="2495.5" y="652.1" font-family="Liberation Sans, Arial, sans-serif" font-size="26.5" fill="#1e1e1e">2.100</text>
<text x="2495.5" y="694.6" font-family="Liberation Sans, Arial, sans-serif" font-size="26.5" fill="#1e1e1e">3.693</text>
<text x="2495.5" y="737.2" font-family="Liberation Sans, Arial, sans-serif" font-size="26.5" fill="#1e1e1e">5.287</text>
<text x="2495.5" y="779.7" font-family="Liberation Sans, Arial, sans-serif" font-size="26.5" fill="#1e1e1e">6.880</text>
<text x="2495.5" y="822.2" font-family="Liberation Sans, Arial, sans-serif" font-size="26.5" fill="#1e1e1e">8.473</text>
<text x="2495.5" y="864.8" font-family="Liberation Sans, Arial, sans-serif" font-size="26.5" fill="#1e1e1e">10.07</text>
<text x="2495.5" y="907.3" font-family="Liberation Sans, Arial, sans-serif" font-size="26.5" fill="#1e1e1e">11.66</text>
<text x="2495.5" y="949.8" font-family="Liberation Sans, Arial, sans-serif" font-size="26.5" fill="#1e1e1e">13.25</text>
<text x="2495.5" y="992.3" font-family="Liberation Sans, Arial, sans-serif" font-size="26.5" fill="#1e1e1e">14.85</text>
<text x="2495.5" y="1034.9" font-family="Liberation Sans, Arial, sans-serif" font-size="26.5" fill="#1e1e1e">16.44</text>
<text x="2495.5" y="1077.4" font-family="Liberation Sans, Arial, sans-serif" font-size="26.5" fill="#1e1e1e">18.03</text>
<text x="2495.5" y="1119.9" font-family="Liberation Sans, Arial, sans-serif" font-size="26.5" fill="#1e1e1e">19.63</text>
<text x="2495.5" y="1162.5" font-family="Liberation Sans, Arial, sans-serif" font-size="26.5" fill="#1e1e1e">21.22</text>
<text x="2495.5" y="1205.0" font-family="Liberation Sans, Arial, sans-serif" font-size="26.5" fill="#1e1e1e">22.81</text>
<text x="2495.5" y="1247.5" font-family="Liberation Sans, Arial, sans-serif" font-size="26.5" fill="#1e1e1e">24.41</text>
<text x="2495.5" y="1290.0" font-family="Liberation Sans, Arial, sans-serif" font-size="26.5" fill="#1e1e1e">26.00</text>
<text x="2364" y="581" font-family="Liberation Sans, Arial, sans-serif" font-weight="bold" font-size="53">Y<tspan font-size="43" dy="14">C</tspan><tspan font-size="43" dy="10">2+</tspan><tspan font-size="44.5" dy="-22"> (%)</tspan></text>
</svg>
</body></html>
